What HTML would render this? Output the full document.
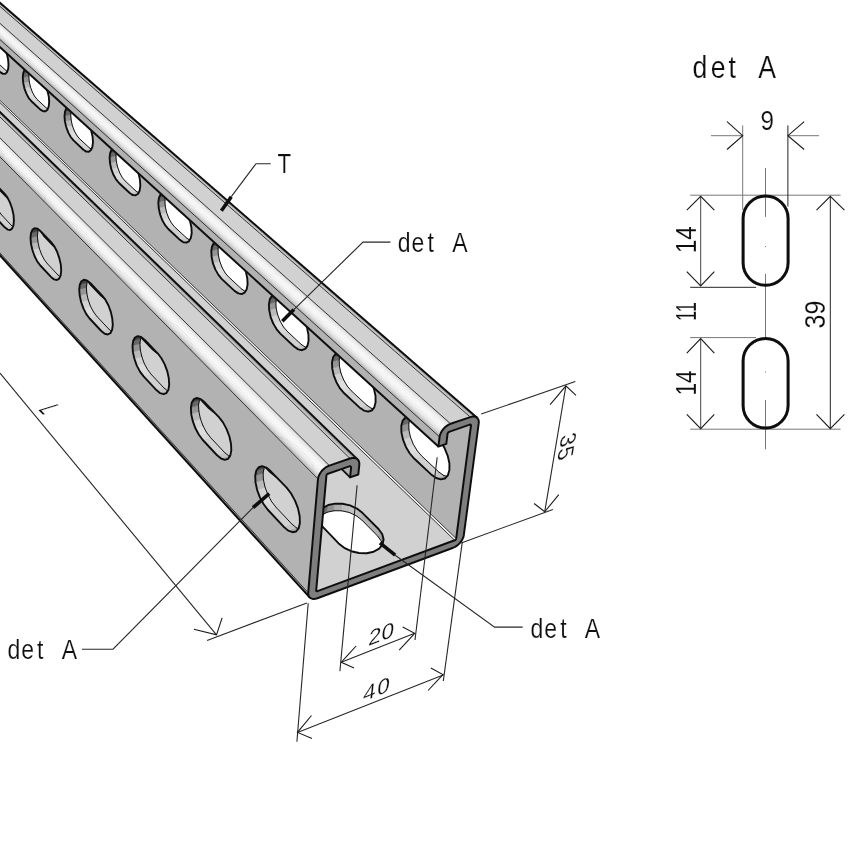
<!DOCTYPE html>
<html><head><meta charset="utf-8"><title>det A</title>
<style>
html,body{margin:0;padding:0;background:#fff;}
body{width:850px;height:850px;overflow:hidden;font-family:"Liberation Sans",sans-serif;}
svg{display:block;}
text{font-family:"Liberation Sans",sans-serif;fill:#111;}
</style></head><body>
<svg width="850" height="850" viewBox="0 0 850 850">
<defs><filter id="soft" x="0" y="0" width="850" height="850" filterUnits="userSpaceOnUse"><feGaussianBlur stdDeviation="0.4"/></filter></defs>
<rect width="850" height="850" fill="#fff"/>
<g id="channel" filter="url(#soft)">
<path d="M-8.0,64.4 L-10.4,61.4 L-4.6,60.0 L-2.1,63.0Z" fill="#d9d9d9" stroke="#d9d9d9" stroke-width="0.5"/>
<path d="M-2.1,63.0 L-4.6,60.0" stroke="#111" stroke-width="1.0" fill="none" stroke-linecap="round"/>
<path d="M-10.4,61.4 L-12.6,57.2 L-6.8,55.8 L-4.6,60.0Z" fill="#dedede" stroke="#dedede" stroke-width="0.5"/>
<path d="M-4.6,60.0 L-6.8,55.8" stroke="#111" stroke-width="1.0" fill="none" stroke-linecap="round"/>
<path d="M-12.6,57.2 L-14.4,52.3 L-8.6,50.9 L-6.8,55.8Z" fill="#d3d3d3" stroke="#d3d3d3" stroke-width="0.5"/>
<path d="M-6.8,55.8 L-8.6,50.9" stroke="#111" stroke-width="1.0" fill="none" stroke-linecap="round"/>
<path d="M-14.4,52.3 L-15.5,47.0 L-9.7,45.7 L-8.6,50.9Z" fill="#bababa" stroke="#bababa" stroke-width="0.5"/>
<path d="M-8.6,50.9 L-9.7,45.7" stroke="#111" stroke-width="1.0" fill="none" stroke-linecap="round"/>
<path d="M-15.5,47.0 L-16.0,42.0 L-10.2,40.6 L-9.7,45.7Z" fill="#959595" stroke="#959595" stroke-width="0.5"/>
<path d="M-9.7,45.7 L-10.2,40.6" stroke="#111" stroke-width="1.0" fill="none" stroke-linecap="round"/>
<path d="M-16.0,42.0 L-15.7,37.7 L-9.8,36.3 L-10.2,40.6Z" fill="#686868" stroke="#686868" stroke-width="0.5"/>
<path d="M-10.2,40.6 L-9.8,36.3" stroke="#111" stroke-width="1.0" fill="none" stroke-linecap="round"/>
<path d="M-15.7,37.7 L-14.6,34.5 L-8.8,33.1 L-9.8,36.3Z" fill="#404040" stroke="#404040" stroke-width="0.5"/>
<path d="M-9.8,36.3 L-8.8,33.1" stroke="#111" stroke-width="1.0" fill="none" stroke-linecap="round"/>
<path d="M-14.6,34.5 L-12.9,32.7 L-7.1,31.3 L-8.8,33.1Z" fill="#404040" stroke="#404040" stroke-width="0.5"/>
<path d="M-8.8,33.1 L-7.1,31.3" stroke="#111" stroke-width="1.0" fill="none" stroke-linecap="round"/>
<path d="M5.3,73.9 L3.0,73.9 L8.9,72.5 L11.2,72.4Z" fill="#a5a5a5" stroke="#a5a5a5" stroke-width="0.5"/>
<path d="M11.2,72.4 L8.9,72.5" stroke="#111" stroke-width="1.0" fill="none" stroke-linecap="round"/>
<path d="M3.0,73.9 L0.6,72.4 L6.4,70.9 L8.9,72.5Z" fill="#c5c5c5" stroke="#c5c5c5" stroke-width="0.5"/>
<path d="M8.9,72.5 L6.4,70.9" stroke="#111" stroke-width="1.0" fill="none" stroke-linecap="round"/>
<path d="M0.6,72.4 L-8.0,64.4 L-2.1,63.0 L6.4,70.9Z" fill="#d1d1d1" stroke="#d1d1d1" stroke-width="0.5"/>
<path d="M6.4,70.9 L-2.1,63.0" stroke="#111" stroke-width="1.0" fill="none" stroke-linecap="round"/>
<path d="M31.2,101.0 L28.6,97.8 L34.6,96.3 L37.2,99.5Z" fill="#d9d9d9" stroke="#d9d9d9" stroke-width="0.5"/>
<path d="M37.2,99.5 L34.6,96.3" stroke="#111" stroke-width="1.0" fill="none" stroke-linecap="round"/>
<path d="M28.6,97.8 L26.3,93.4 L32.3,92.0 L34.6,96.3Z" fill="#dedede" stroke="#dedede" stroke-width="0.5"/>
<path d="M34.6,96.3 L32.3,92.0" stroke="#111" stroke-width="1.0" fill="none" stroke-linecap="round"/>
<path d="M26.3,93.4 L24.4,88.3 L30.4,86.8 L32.3,92.0Z" fill="#d3d3d3" stroke="#d3d3d3" stroke-width="0.5"/>
<path d="M32.3,92.0 L30.4,86.8" stroke="#111" stroke-width="1.0" fill="none" stroke-linecap="round"/>
<path d="M24.4,88.3 L23.2,82.9 L29.2,81.4 L30.4,86.8Z" fill="#bababa" stroke="#bababa" stroke-width="0.5"/>
<path d="M30.4,86.8 L29.2,81.4" stroke="#111" stroke-width="1.0" fill="none" stroke-linecap="round"/>
<path d="M23.2,82.9 L22.8,77.7 L28.8,76.2 L29.2,81.4Z" fill="#959595" stroke="#959595" stroke-width="0.5"/>
<path d="M29.2,81.4 L28.8,76.2" stroke="#111" stroke-width="1.0" fill="none" stroke-linecap="round"/>
<path d="M22.8,77.7 L23.2,73.3 L29.2,71.8 L28.8,76.2Z" fill="#686868" stroke="#686868" stroke-width="0.5"/>
<path d="M28.8,76.2 L29.2,71.8" stroke="#111" stroke-width="1.0" fill="none" stroke-linecap="round"/>
<path d="M23.2,73.3 L24.4,70.0 L30.4,68.5 L29.2,71.8Z" fill="#404040" stroke="#404040" stroke-width="0.5"/>
<path d="M29.2,71.8 L30.4,68.5" stroke="#111" stroke-width="1.0" fill="none" stroke-linecap="round"/>
<path d="M24.4,70.0 L26.2,68.2 L32.3,66.7 L30.4,68.5Z" fill="#404040" stroke="#404040" stroke-width="0.5"/>
<path d="M30.4,68.5 L32.3,66.7" stroke="#111" stroke-width="1.0" fill="none" stroke-linecap="round"/>
<path d="M45.5,111.3 L43.1,111.3 L49.1,109.8 L51.6,109.8Z" fill="#a5a5a5" stroke="#a5a5a5" stroke-width="0.5"/>
<path d="M51.6,109.8 L49.1,109.8" stroke="#111" stroke-width="1.0" fill="none" stroke-linecap="round"/>
<path d="M43.1,111.3 L40.4,109.6 L46.5,108.1 L49.1,109.8Z" fill="#c5c5c5" stroke="#c5c5c5" stroke-width="0.5"/>
<path d="M49.1,109.8 L46.5,108.1" stroke="#111" stroke-width="1.0" fill="none" stroke-linecap="round"/>
<path d="M40.4,109.6 L31.2,101.0 L37.2,99.5 L46.5,108.1Z" fill="#d1d1d1" stroke="#d1d1d1" stroke-width="0.5"/>
<path d="M46.5,108.1 L37.2,99.5" stroke="#111" stroke-width="1.0" fill="none" stroke-linecap="round"/>
<path d="M73.5,140.4 L70.7,137.0 L76.8,135.4 L79.6,138.8Z" fill="#d9d9d9" stroke="#d9d9d9" stroke-width="0.5"/>
<path d="M79.6,138.8 L76.8,135.4" stroke="#111" stroke-width="1.0" fill="none" stroke-linecap="round"/>
<path d="M70.7,137.0 L68.2,132.4 L74.3,130.8 L76.8,135.4Z" fill="#dedede" stroke="#dedede" stroke-width="0.5"/>
<path d="M76.8,135.4 L74.3,130.8" stroke="#111" stroke-width="1.0" fill="none" stroke-linecap="round"/>
<path d="M68.2,132.4 L66.2,127.0 L72.3,125.5 L74.3,130.8Z" fill="#d3d3d3" stroke="#d3d3d3" stroke-width="0.5"/>
<path d="M74.3,130.8 L72.3,125.5" stroke="#111" stroke-width="1.0" fill="none" stroke-linecap="round"/>
<path d="M66.2,127.0 L64.9,121.4 L71.1,119.8 L72.3,125.5Z" fill="#bababa" stroke="#bababa" stroke-width="0.5"/>
<path d="M72.3,125.5 L71.1,119.8" stroke="#111" stroke-width="1.0" fill="none" stroke-linecap="round"/>
<path d="M64.9,121.4 L64.5,116.1 L70.7,114.5 L71.1,119.8Z" fill="#959595" stroke="#959595" stroke-width="0.5"/>
<path d="M71.1,119.8 L70.7,114.5" stroke="#111" stroke-width="1.0" fill="none" stroke-linecap="round"/>
<path d="M64.5,116.1 L65.0,111.5 L71.2,110.0 L70.7,114.5Z" fill="#686868" stroke="#686868" stroke-width="0.5"/>
<path d="M70.7,114.5 L71.2,110.0" stroke="#111" stroke-width="1.0" fill="none" stroke-linecap="round"/>
<path d="M65.0,111.5 L66.4,108.2 L72.5,106.7 L71.2,110.0Z" fill="#404040" stroke="#404040" stroke-width="0.5"/>
<path d="M71.2,110.0 L72.5,106.7" stroke="#111" stroke-width="1.0" fill="none" stroke-linecap="round"/>
<path d="M66.4,108.2 L68.4,106.5 L74.6,104.9 L72.5,106.7Z" fill="#404040" stroke="#404040" stroke-width="0.5"/>
<path d="M72.5,106.7 L74.6,104.9" stroke="#111" stroke-width="1.0" fill="none" stroke-linecap="round"/>
<path d="M88.9,151.7 L86.2,151.6 L92.5,149.9 L95.1,150.1Z" fill="#a5a5a5" stroke="#a5a5a5" stroke-width="0.5"/>
<path d="M95.1,150.1 L92.5,149.9" stroke="#111" stroke-width="1.0" fill="none" stroke-linecap="round"/>
<path d="M86.2,151.6 L83.4,149.7 L89.6,148.0 L92.5,149.9Z" fill="#c5c5c5" stroke="#c5c5c5" stroke-width="0.5"/>
<path d="M92.5,149.9 L89.6,148.0" stroke="#111" stroke-width="1.0" fill="none" stroke-linecap="round"/>
<path d="M83.4,149.7 L73.5,140.4 L79.6,138.8 L89.6,148.0Z" fill="#d1d1d1" stroke="#d1d1d1" stroke-width="0.5"/>
<path d="M89.6,148.0 L79.6,138.8" stroke="#111" stroke-width="1.0" fill="none" stroke-linecap="round"/>
<path d="M119.0,183.0 L116.0,179.3 L122.3,177.6 L125.4,181.2Z" fill="#d9d9d9" stroke="#d9d9d9" stroke-width="0.5"/>
<path d="M125.4,181.2 L122.3,177.6" stroke="#111" stroke-width="1.0" fill="none" stroke-linecap="round"/>
<path d="M116.0,179.3 L113.3,174.5 L119.7,172.8 L122.3,177.6Z" fill="#dedede" stroke="#dedede" stroke-width="0.5"/>
<path d="M122.3,177.6 L119.7,172.8" stroke="#111" stroke-width="1.0" fill="none" stroke-linecap="round"/>
<path d="M113.3,174.5 L111.2,168.9 L117.6,167.1 L119.7,172.8Z" fill="#d3d3d3" stroke="#d3d3d3" stroke-width="0.5"/>
<path d="M119.7,172.8 L117.6,167.1" stroke="#111" stroke-width="1.0" fill="none" stroke-linecap="round"/>
<path d="M111.2,168.9 L110.0,163.0 L116.3,161.3 L117.6,167.1Z" fill="#bababa" stroke="#bababa" stroke-width="0.5"/>
<path d="M117.6,167.1 L116.3,161.3" stroke="#111" stroke-width="1.0" fill="none" stroke-linecap="round"/>
<path d="M110.0,163.0 L109.6,157.5 L115.9,155.8 L116.3,161.3Z" fill="#959595" stroke="#959595" stroke-width="0.5"/>
<path d="M116.3,161.3 L115.9,155.8" stroke="#111" stroke-width="1.0" fill="none" stroke-linecap="round"/>
<path d="M109.6,157.5 L110.2,152.9 L116.5,151.2 L115.9,155.8Z" fill="#686868" stroke="#686868" stroke-width="0.5"/>
<path d="M115.9,155.8 L116.5,151.2" stroke="#111" stroke-width="1.0" fill="none" stroke-linecap="round"/>
<path d="M110.2,152.9 L111.7,149.5 L118.0,147.8 L116.5,151.2Z" fill="#404040" stroke="#404040" stroke-width="0.5"/>
<path d="M116.5,151.2 L118.0,147.8" stroke="#111" stroke-width="1.0" fill="none" stroke-linecap="round"/>
<path d="M111.7,149.5 L113.9,147.8 L120.3,146.2 L118.0,147.8Z" fill="#404040" stroke="#404040" stroke-width="0.5"/>
<path d="M118.0,147.8 L120.3,146.2" stroke="#111" stroke-width="1.0" fill="none" stroke-linecap="round"/>
<path d="M135.7,195.3 L132.8,195.1 L139.3,193.3 L142.2,193.6Z" fill="#a5a5a5" stroke="#a5a5a5" stroke-width="0.5"/>
<path d="M142.2,193.6 L139.3,193.3" stroke="#111" stroke-width="1.0" fill="none" stroke-linecap="round"/>
<path d="M132.8,195.1 L129.7,193.0 L136.1,191.2 L139.3,193.3Z" fill="#c5c5c5" stroke="#c5c5c5" stroke-width="0.5"/>
<path d="M139.3,193.3 L136.1,191.2" stroke="#111" stroke-width="1.0" fill="none" stroke-linecap="round"/>
<path d="M129.7,193.0 L119.0,183.0 L125.4,181.2 L136.1,191.2Z" fill="#d1d1d1" stroke="#d1d1d1" stroke-width="0.5"/>
<path d="M136.1,191.2 L125.4,181.2" stroke="#111" stroke-width="1.0" fill="none" stroke-linecap="round"/>
<path d="M168.3,229.0 L165.1,225.1 L171.6,223.3 L174.9,227.2Z" fill="#d9d9d9" stroke="#d9d9d9" stroke-width="0.5"/>
<path d="M174.9,227.2 L171.6,223.3" stroke="#111" stroke-width="1.0" fill="none" stroke-linecap="round"/>
<path d="M165.1,225.1 L162.2,220.0 L168.7,218.1 L171.6,223.3Z" fill="#dedede" stroke="#dedede" stroke-width="0.5"/>
<path d="M171.6,223.3 L168.7,218.1" stroke="#111" stroke-width="1.0" fill="none" stroke-linecap="round"/>
<path d="M162.2,220.0 L160.0,214.1 L166.5,212.3 L168.7,218.1Z" fill="#d3d3d3" stroke="#d3d3d3" stroke-width="0.5"/>
<path d="M168.7,218.1 L166.5,212.3" stroke="#111" stroke-width="1.0" fill="none" stroke-linecap="round"/>
<path d="M160.0,214.1 L158.7,208.0 L165.2,206.2 L166.5,212.3Z" fill="#bababa" stroke="#bababa" stroke-width="0.5"/>
<path d="M166.5,212.3 L165.2,206.2" stroke="#111" stroke-width="1.0" fill="none" stroke-linecap="round"/>
<path d="M158.7,208.0 L158.3,202.3 L164.9,200.5 L165.2,206.2Z" fill="#959595" stroke="#959595" stroke-width="0.5"/>
<path d="M165.2,206.2 L164.9,200.5" stroke="#111" stroke-width="1.0" fill="none" stroke-linecap="round"/>
<path d="M158.3,202.3 L159.0,197.6 L165.6,195.8 L164.9,200.5Z" fill="#686868" stroke="#686868" stroke-width="0.5"/>
<path d="M164.9,200.5 L165.6,195.8" stroke="#111" stroke-width="1.0" fill="none" stroke-linecap="round"/>
<path d="M159.0,197.6 L160.7,194.2 L167.3,192.4 L165.6,195.8Z" fill="#404040" stroke="#404040" stroke-width="0.5"/>
<path d="M165.6,195.8 L167.3,192.4" stroke="#111" stroke-width="1.0" fill="none" stroke-linecap="round"/>
<path d="M160.7,194.2 L163.2,192.6 L169.8,190.8 L167.3,192.4Z" fill="#404040" stroke="#404040" stroke-width="0.5"/>
<path d="M167.3,192.4 L169.8,190.8" stroke="#111" stroke-width="1.0" fill="none" stroke-linecap="round"/>
<path d="M186.5,242.6 L183.4,242.2 L190.0,240.3 L193.2,240.7Z" fill="#a5a5a5" stroke="#a5a5a5" stroke-width="0.5"/>
<path d="M193.2,240.7 L190.0,240.3" stroke="#111" stroke-width="1.0" fill="none" stroke-linecap="round"/>
<path d="M183.4,242.2 L179.9,239.9 L186.6,238.0 L190.0,240.3Z" fill="#c5c5c5" stroke="#c5c5c5" stroke-width="0.5"/>
<path d="M190.0,240.3 L186.6,238.0" stroke="#111" stroke-width="1.0" fill="none" stroke-linecap="round"/>
<path d="M179.9,239.9 L168.3,229.0 L174.9,227.2 L186.6,238.0Z" fill="#d1d1d1" stroke="#d1d1d1" stroke-width="0.5"/>
<path d="M186.6,238.0 L174.9,227.2" stroke="#111" stroke-width="1.0" fill="none" stroke-linecap="round"/>
<path d="M221.9,279.1 L218.4,274.9 L225.1,272.9 L228.7,277.0Z" fill="#d9d9d9" stroke="#d9d9d9" stroke-width="0.5"/>
<path d="M228.7,277.0 L225.1,272.9" stroke="#111" stroke-width="1.0" fill="none" stroke-linecap="round"/>
<path d="M218.4,274.9 L215.3,269.4 L222.0,267.4 L225.1,272.9Z" fill="#dedede" stroke="#dedede" stroke-width="0.5"/>
<path d="M225.1,272.9 L222.0,267.4" stroke="#111" stroke-width="1.0" fill="none" stroke-linecap="round"/>
<path d="M215.3,269.4 L212.9,263.2 L219.7,261.2 L222.0,267.4Z" fill="#d3d3d3" stroke="#d3d3d3" stroke-width="0.5"/>
<path d="M222.0,267.4 L219.7,261.2" stroke="#111" stroke-width="1.0" fill="none" stroke-linecap="round"/>
<path d="M212.9,263.2 L211.6,256.9 L218.3,254.9 L219.7,261.2Z" fill="#bababa" stroke="#bababa" stroke-width="0.5"/>
<path d="M219.7,261.2 L218.3,254.9" stroke="#111" stroke-width="1.0" fill="none" stroke-linecap="round"/>
<path d="M211.6,256.9 L211.3,251.0 L218.0,249.1 L218.3,254.9Z" fill="#959595" stroke="#959595" stroke-width="0.5"/>
<path d="M218.3,254.9 L218.0,249.1" stroke="#111" stroke-width="1.0" fill="none" stroke-linecap="round"/>
<path d="M211.3,251.0 L212.1,246.2 L218.9,244.2 L218.0,249.1Z" fill="#686868" stroke="#686868" stroke-width="0.5"/>
<path d="M218.0,249.1 L218.9,244.2" stroke="#111" stroke-width="1.0" fill="none" stroke-linecap="round"/>
<path d="M212.1,246.2 L214.0,242.8 L220.8,240.8 L218.9,244.2Z" fill="#404040" stroke="#404040" stroke-width="0.5"/>
<path d="M218.9,244.2 L220.8,240.8" stroke="#111" stroke-width="1.0" fill="none" stroke-linecap="round"/>
<path d="M214.0,242.8 L216.7,241.3 L223.5,239.3 L220.8,240.8Z" fill="#404040" stroke="#404040" stroke-width="0.5"/>
<path d="M220.8,240.8 L223.5,239.3" stroke="#111" stroke-width="1.0" fill="none" stroke-linecap="round"/>
<path d="M241.7,294.1 L238.3,293.4 L245.1,291.4 L248.6,292.0Z" fill="#a5a5a5" stroke="#a5a5a5" stroke-width="0.5"/>
<path d="M248.6,292.0 L245.1,291.4" stroke="#111" stroke-width="1.0" fill="none" stroke-linecap="round"/>
<path d="M238.3,293.4 L234.5,290.9 L241.4,288.8 L245.1,291.4Z" fill="#c5c5c5" stroke="#c5c5c5" stroke-width="0.5"/>
<path d="M245.1,291.4 L241.4,288.8" stroke="#111" stroke-width="1.0" fill="none" stroke-linecap="round"/>
<path d="M234.5,290.9 L221.9,279.1 L228.7,277.0 L241.4,288.8Z" fill="#d1d1d1" stroke="#d1d1d1" stroke-width="0.5"/>
<path d="M241.4,288.8 L228.7,277.0" stroke="#111" stroke-width="1.0" fill="none" stroke-linecap="round"/>
<path d="M280.3,333.6 L276.5,329.1 L283.4,326.9 L287.3,331.4Z" fill="#d9d9d9" stroke="#d9d9d9" stroke-width="0.5"/>
<path d="M287.3,331.4 L283.4,326.9" stroke="#111" stroke-width="1.0" fill="none" stroke-linecap="round"/>
<path d="M276.5,329.1 L273.1,323.3 L280.1,321.1 L283.4,326.9Z" fill="#dedede" stroke="#dedede" stroke-width="0.5"/>
<path d="M283.4,326.9 L280.1,321.1" stroke="#111" stroke-width="1.0" fill="none" stroke-linecap="round"/>
<path d="M273.1,323.3 L270.6,316.8 L277.6,314.6 L280.1,321.1Z" fill="#d3d3d3" stroke="#d3d3d3" stroke-width="0.5"/>
<path d="M280.1,321.1 L277.6,314.6" stroke="#111" stroke-width="1.0" fill="none" stroke-linecap="round"/>
<path d="M270.6,316.8 L269.2,310.1 L276.1,308.0 L277.6,314.6Z" fill="#bababa" stroke="#bababa" stroke-width="0.5"/>
<path d="M277.6,314.6 L276.1,308.0" stroke="#111" stroke-width="1.0" fill="none" stroke-linecap="round"/>
<path d="M269.2,310.1 L268.9,304.1 L275.9,301.9 L276.1,308.0Z" fill="#959595" stroke="#959595" stroke-width="0.5"/>
<path d="M276.1,308.0 L275.9,301.9" stroke="#111" stroke-width="1.0" fill="none" stroke-linecap="round"/>
<path d="M268.9,304.1 L269.9,299.1 L276.9,297.0 L275.9,301.9Z" fill="#686868" stroke="#686868" stroke-width="0.5"/>
<path d="M275.9,301.9 L276.9,297.0" stroke="#111" stroke-width="1.0" fill="none" stroke-linecap="round"/>
<path d="M269.9,299.1 L272.1,295.7 L279.1,293.6 L276.9,297.0Z" fill="#404040" stroke="#404040" stroke-width="0.5"/>
<path d="M276.9,297.0 L279.1,293.6" stroke="#111" stroke-width="1.0" fill="none" stroke-linecap="round"/>
<path d="M272.1,295.7 L275.1,294.3 L282.2,292.1 L279.1,293.6Z" fill="#404040" stroke="#404040" stroke-width="0.5"/>
<path d="M279.1,293.6 L282.2,292.1" stroke="#111" stroke-width="1.0" fill="none" stroke-linecap="round"/>
<path d="M302.0,350.2 L298.2,349.4 L305.2,347.1 L309.1,347.9Z" fill="#a5a5a5" stroke="#a5a5a5" stroke-width="0.5"/>
<path d="M309.1,347.9 L305.2,347.1" stroke="#111" stroke-width="1.0" fill="none" stroke-linecap="round"/>
<path d="M298.2,349.4 L294.1,346.5 L301.1,344.3 L305.2,347.1Z" fill="#c5c5c5" stroke="#c5c5c5" stroke-width="0.5"/>
<path d="M305.2,347.1 L301.1,344.3" stroke="#111" stroke-width="1.0" fill="none" stroke-linecap="round"/>
<path d="M294.1,346.5 L280.3,333.6 L287.3,331.4 L301.1,344.3Z" fill="#d1d1d1" stroke="#d1d1d1" stroke-width="0.5"/>
<path d="M301.1,344.3 L287.3,331.4" stroke="#111" stroke-width="1.0" fill="none" stroke-linecap="round"/>
<path d="M344.2,393.3 L340.0,388.4 L347.2,386.0 L351.4,390.9Z" fill="#d9d9d9" stroke="#d9d9d9" stroke-width="0.5"/>
<path d="M351.4,390.9 L347.2,386.0" stroke="#111" stroke-width="1.0" fill="none" stroke-linecap="round"/>
<path d="M340.0,388.4 L336.4,382.2 L343.6,379.8 L347.2,386.0Z" fill="#dedede" stroke="#dedede" stroke-width="0.5"/>
<path d="M347.2,386.0 L343.6,379.8" stroke="#111" stroke-width="1.0" fill="none" stroke-linecap="round"/>
<path d="M336.4,382.2 L333.7,375.3 L340.9,373.0 L343.6,379.8Z" fill="#d3d3d3" stroke="#d3d3d3" stroke-width="0.5"/>
<path d="M343.6,379.8 L340.9,373.0" stroke="#111" stroke-width="1.0" fill="none" stroke-linecap="round"/>
<path d="M333.7,375.3 L332.2,368.4 L339.4,366.1 L340.9,373.0Z" fill="#bababa" stroke="#bababa" stroke-width="0.5"/>
<path d="M340.9,373.0 L339.4,366.1" stroke="#111" stroke-width="1.0" fill="none" stroke-linecap="round"/>
<path d="M332.2,368.4 L332.0,362.1 L339.2,359.8 L339.4,366.1Z" fill="#959595" stroke="#959595" stroke-width="0.5"/>
<path d="M339.4,366.1 L339.2,359.8" stroke="#111" stroke-width="1.0" fill="none" stroke-linecap="round"/>
<path d="M332.0,362.1 L333.2,357.0 L340.4,354.7 L339.2,359.8Z" fill="#686868" stroke="#686868" stroke-width="0.5"/>
<path d="M339.2,359.8 L340.4,354.7" stroke="#111" stroke-width="1.0" fill="none" stroke-linecap="round"/>
<path d="M333.2,357.0 L335.6,353.7 L342.9,351.3 L340.4,354.7Z" fill="#404040" stroke="#404040" stroke-width="0.5"/>
<path d="M340.4,354.7 L342.9,351.3" stroke="#111" stroke-width="1.0" fill="none" stroke-linecap="round"/>
<path d="M335.6,353.7 L339.1,352.3 L346.3,350.0 L342.9,351.3Z" fill="#404040" stroke="#404040" stroke-width="0.5"/>
<path d="M342.9,351.3 L346.3,350.0" stroke="#111" stroke-width="1.0" fill="none" stroke-linecap="round"/>
<path d="M371.7,410.6 L368.1,411.7 L375.4,409.3 L379.0,408.1Z" fill="#7a7a7a" stroke="#7a7a7a" stroke-width="0.5"/>
<path d="M379.0,408.1 L375.4,409.3" stroke="#111" stroke-width="1.0" fill="none" stroke-linecap="round"/>
<path d="M368.1,411.7 L363.9,410.6 L371.1,408.2 L375.4,409.3Z" fill="#a5a5a5" stroke="#a5a5a5" stroke-width="0.5"/>
<path d="M375.4,409.3 L371.1,408.2" stroke="#111" stroke-width="1.0" fill="none" stroke-linecap="round"/>
<path d="M363.9,410.6 L359.4,407.4 L366.6,405.0 L371.1,408.2Z" fill="#c5c5c5" stroke="#c5c5c5" stroke-width="0.5"/>
<path d="M371.1,408.2 L366.6,405.0" stroke="#111" stroke-width="1.0" fill="none" stroke-linecap="round"/>
<path d="M359.4,407.4 L344.2,393.3 L351.4,390.9 L366.6,405.0Z" fill="#d1d1d1" stroke="#d1d1d1" stroke-width="0.5"/>
<path d="M366.6,405.0 L351.4,390.9" stroke="#111" stroke-width="1.0" fill="none" stroke-linecap="round"/>
<path d="M414.4,458.8 L409.8,453.5 L417.3,450.9 L421.9,456.2Z" fill="#d9d9d9" stroke="#d9d9d9" stroke-width="0.5"/>
<path d="M421.9,456.2 L417.3,450.9" stroke="#111" stroke-width="1.0" fill="none" stroke-linecap="round"/>
<path d="M409.8,453.5 L405.9,446.9 L413.3,444.3 L417.3,450.9Z" fill="#dedede" stroke="#dedede" stroke-width="0.5"/>
<path d="M417.3,450.9 L413.3,444.3" stroke="#111" stroke-width="1.0" fill="none" stroke-linecap="round"/>
<path d="M405.9,446.9 L403.0,439.6 L410.4,437.0 L413.3,444.3Z" fill="#d3d3d3" stroke="#d3d3d3" stroke-width="0.5"/>
<path d="M413.3,444.3 L410.4,437.0" stroke="#111" stroke-width="1.0" fill="none" stroke-linecap="round"/>
<path d="M403.0,439.6 L401.4,432.4 L408.9,429.8 L410.4,437.0Z" fill="#bababa" stroke="#bababa" stroke-width="0.5"/>
<path d="M410.4,437.0 L408.9,429.8" stroke="#111" stroke-width="1.0" fill="none" stroke-linecap="round"/>
<path d="M401.4,432.4 L401.3,425.8 L408.8,423.3 L408.9,429.8Z" fill="#959595" stroke="#959595" stroke-width="0.5"/>
<path d="M408.9,429.8 L408.8,423.3" stroke="#111" stroke-width="1.0" fill="none" stroke-linecap="round"/>
<path d="M401.3,425.8 L402.7,420.7 L410.2,418.1 L408.8,423.3Z" fill="#686868" stroke="#686868" stroke-width="0.5"/>
<path d="M408.8,423.3 L410.2,418.1" stroke="#111" stroke-width="1.0" fill="none" stroke-linecap="round"/>
<path d="M402.7,420.7 L405.5,417.3 L412.9,414.8 L410.2,418.1Z" fill="#404040" stroke="#404040" stroke-width="0.5"/>
<path d="M410.2,418.1 L412.9,414.8" stroke="#111" stroke-width="1.0" fill="none" stroke-linecap="round"/>
<path d="M444.9,478.5 L440.8,479.4 L448.4,476.8 L452.5,475.8Z" fill="#7a7a7a" stroke="#7a7a7a" stroke-width="0.5"/>
<path d="M452.5,475.8 L448.4,476.8" stroke="#111" stroke-width="1.0" fill="none" stroke-linecap="round"/>
<path d="M440.8,479.4 L436.1,478.0 L443.6,475.4 L448.4,476.8Z" fill="#a5a5a5" stroke="#a5a5a5" stroke-width="0.5"/>
<path d="M448.4,476.8 L443.6,475.4" stroke="#111" stroke-width="1.0" fill="none" stroke-linecap="round"/>
<path d="M436.1,478.0 L431.1,474.4 L438.6,471.8 L443.6,475.4Z" fill="#c5c5c5" stroke="#c5c5c5" stroke-width="0.5"/>
<path d="M443.6,475.4 L438.6,471.8" stroke="#111" stroke-width="1.0" fill="none" stroke-linecap="round"/>
<path d="M431.1,474.4 L414.4,458.8 L421.9,456.2 L438.6,471.8Z" fill="#d1d1d1" stroke="#d1d1d1" stroke-width="0.5"/>
<path d="M438.6,471.8 L421.9,456.2" stroke="#111" stroke-width="1.0" fill="none" stroke-linecap="round"/>
<path d="M456.2,538.5 L471.0,425.5 L-447.2,-380.7 L-440.4,-322.5Z M414.4,458.8 L409.8,453.5 L405.9,446.9 L403.0,439.6 L401.4,432.4 L401.3,425.8 L402.7,420.7 L405.5,417.3 L409.3,416.2 L413.9,417.3 L418.8,420.7 L435.8,436.1 L440.6,441.5 L444.7,448.3 L447.7,455.8 L449.4,463.3 L449.4,470.0 L447.9,475.3 L444.9,478.5 L440.8,479.4 L436.1,478.0 L431.1,474.4Z M344.2,393.3 L340.0,388.4 L336.4,382.2 L333.7,375.3 L332.2,368.4 L332.0,362.1 L333.2,357.0 L335.6,353.7 L339.1,352.3 L343.2,353.2 L347.6,356.2 L363.0,370.2 L367.3,375.1 L371.1,381.5 L373.9,388.6 L375.5,395.7 L375.6,402.2 L374.3,407.3 L371.7,410.6 L368.1,411.7 L363.9,410.6 L359.4,407.4Z M280.3,333.6 L276.5,329.1 L273.1,323.3 L270.6,316.8 L269.2,310.1 L268.9,304.1 L269.9,299.1 L272.1,295.7 L275.1,294.3 L278.9,294.9 L282.9,297.6 L296.9,310.3 L300.9,314.9 L304.4,320.8 L307.0,327.5 L308.4,334.4 L308.6,340.6 L307.5,345.6 L305.3,348.9 L302.0,350.2 L298.2,349.4 L294.1,346.5Z M221.9,279.1 L218.4,274.9 L215.3,269.4 L212.9,263.2 L211.6,256.9 L211.3,251.0 L212.1,246.2 L214.0,242.8 L216.7,241.3 L220.1,241.7 L223.8,244.1 L236.6,255.7 L240.2,259.9 L243.5,265.5 L245.9,271.9 L247.3,278.4 L247.6,284.4 L246.7,289.3 L244.6,292.7 L241.7,294.1 L238.3,293.4 L234.5,290.9Z M168.3,229.0 L165.1,225.1 L162.2,220.0 L160.0,214.1 L158.7,208.0 L158.3,202.3 L159.0,197.6 L160.7,194.2 L163.2,192.6 L166.3,192.9 L169.6,195.1 L181.4,205.7 L184.7,209.6 L187.7,214.9 L190.0,220.9 L191.4,227.2 L191.7,233.0 L190.9,237.8 L189.1,241.1 L186.5,242.6 L183.4,242.2 L179.9,239.9Z M119.0,183.0 L116.0,179.3 L113.3,174.5 L111.2,168.9 L110.0,163.0 L109.6,157.5 L110.2,152.9 L111.7,149.5 L113.9,147.8 L116.7,148.0 L119.8,149.9 L130.6,159.7 L133.7,163.4 L136.5,168.4 L138.7,174.1 L140.0,180.1 L140.3,185.8 L139.7,190.5 L138.1,193.8 L135.7,195.3 L132.8,195.1 L129.7,193.0Z M73.5,140.4 L70.7,137.0 L68.2,132.4 L66.2,127.0 L64.9,121.4 L64.5,116.1 L65.0,111.5 L66.4,108.2 L68.4,106.5 L71.0,106.5 L73.8,108.3 L83.8,117.3 L86.7,120.8 L89.3,125.5 L91.3,131.0 L92.6,136.8 L93.0,142.2 L92.4,146.8 L91.0,150.1 L88.9,151.7 L86.2,151.6 L83.4,149.7Z M31.2,101.0 L28.6,97.8 L26.3,93.4 L24.4,88.3 L23.2,82.9 L22.8,77.7 L23.2,73.3 L24.4,70.0 L26.2,68.2 L28.6,68.1 L31.2,69.7 L40.5,78.1 L43.2,81.3 L45.6,85.8 L47.5,91.1 L48.8,96.6 L49.2,101.9 L48.7,106.4 L47.5,109.7 L45.5,111.3 L43.1,111.3 L40.4,109.6Z M-8.0,64.4 L-10.4,61.4 L-12.6,57.2 L-14.4,52.3 L-15.5,47.0 L-16.0,42.0 L-15.7,37.7 L-14.6,34.5 L-12.9,32.7 L-10.7,32.5 L-8.3,33.9 L0.3,41.7 L2.8,44.7 L5.1,49.0 L6.9,54.1 L8.1,59.4 L8.5,64.6 L8.2,68.9 L7.0,72.1 L5.3,73.9 L3.0,73.9 L0.6,72.4Z" fill="#b2b2b2" fill-rule="evenodd" stroke="none"/>
<path d="M414.4,458.8 L409.8,453.5 L405.9,446.9 L403.0,439.6 L401.4,432.4 L401.3,425.8 L402.7,420.7 L405.5,417.3 L409.3,416.2 L413.9,417.3 L418.8,420.7 L435.8,436.1 L440.6,441.5 L444.7,448.3 L447.7,455.8 L449.4,463.3 L449.4,470.0 L447.9,475.3 L444.9,478.5 L440.8,479.4 L436.1,478.0 L431.1,474.4Z M344.2,393.3 L340.0,388.4 L336.4,382.2 L333.7,375.3 L332.2,368.4 L332.0,362.1 L333.2,357.0 L335.6,353.7 L339.1,352.3 L343.2,353.2 L347.6,356.2 L363.0,370.2 L367.3,375.1 L371.1,381.5 L373.9,388.6 L375.5,395.7 L375.6,402.2 L374.3,407.3 L371.7,410.6 L368.1,411.7 L363.9,410.6 L359.4,407.4Z M280.3,333.6 L276.5,329.1 L273.1,323.3 L270.6,316.8 L269.2,310.1 L268.9,304.1 L269.9,299.1 L272.1,295.7 L275.1,294.3 L278.9,294.9 L282.9,297.6 L296.9,310.3 L300.9,314.9 L304.4,320.8 L307.0,327.5 L308.4,334.4 L308.6,340.6 L307.5,345.6 L305.3,348.9 L302.0,350.2 L298.2,349.4 L294.1,346.5Z M221.9,279.1 L218.4,274.9 L215.3,269.4 L212.9,263.2 L211.6,256.9 L211.3,251.0 L212.1,246.2 L214.0,242.8 L216.7,241.3 L220.1,241.7 L223.8,244.1 L236.6,255.7 L240.2,259.9 L243.5,265.5 L245.9,271.9 L247.3,278.4 L247.6,284.4 L246.7,289.3 L244.6,292.7 L241.7,294.1 L238.3,293.4 L234.5,290.9Z M168.3,229.0 L165.1,225.1 L162.2,220.0 L160.0,214.1 L158.7,208.0 L158.3,202.3 L159.0,197.6 L160.7,194.2 L163.2,192.6 L166.3,192.9 L169.6,195.1 L181.4,205.7 L184.7,209.6 L187.7,214.9 L190.0,220.9 L191.4,227.2 L191.7,233.0 L190.9,237.8 L189.1,241.1 L186.5,242.6 L183.4,242.2 L179.9,239.9Z M119.0,183.0 L116.0,179.3 L113.3,174.5 L111.2,168.9 L110.0,163.0 L109.6,157.5 L110.2,152.9 L111.7,149.5 L113.9,147.8 L116.7,148.0 L119.8,149.9 L130.6,159.7 L133.7,163.4 L136.5,168.4 L138.7,174.1 L140.0,180.1 L140.3,185.8 L139.7,190.5 L138.1,193.8 L135.7,195.3 L132.8,195.1 L129.7,193.0Z M73.5,140.4 L70.7,137.0 L68.2,132.4 L66.2,127.0 L64.9,121.4 L64.5,116.1 L65.0,111.5 L66.4,108.2 L68.4,106.5 L71.0,106.5 L73.8,108.3 L83.8,117.3 L86.7,120.8 L89.3,125.5 L91.3,131.0 L92.6,136.8 L93.0,142.2 L92.4,146.8 L91.0,150.1 L88.9,151.7 L86.2,151.6 L83.4,149.7Z M31.2,101.0 L28.6,97.8 L26.3,93.4 L24.4,88.3 L23.2,82.9 L22.8,77.7 L23.2,73.3 L24.4,70.0 L26.2,68.2 L28.6,68.1 L31.2,69.7 L40.5,78.1 L43.2,81.3 L45.6,85.8 L47.5,91.1 L48.8,96.6 L49.2,101.9 L48.7,106.4 L47.5,109.7 L45.5,111.3 L43.1,111.3 L40.4,109.6Z M-8.0,64.4 L-10.4,61.4 L-12.6,57.2 L-14.4,52.3 L-15.5,47.0 L-16.0,42.0 L-15.7,37.7 L-14.6,34.5 L-12.9,32.7 L-10.7,32.5 L-8.3,33.9 L0.3,41.7 L2.8,44.7 L5.1,49.0 L6.9,54.1 L8.1,59.4 L8.5,64.6 L8.2,68.9 L7.0,72.1 L5.3,73.9 L3.0,73.9 L0.6,72.4Z" fill="none" stroke="#111" stroke-width="1.90" stroke-linejoin="round"/>
<path d="M-40.5,146.7 L-40.4,143.9 L-40.3,149.7 L-40.4,152.6Z" fill="#404040" stroke="#404040" stroke-width="0.5"/>
<path d="M-40.4,152.6 L-40.3,149.7" stroke="#111" stroke-width="1.0" fill="none" stroke-linecap="round"/>
<path d="M-40.4,143.9 L-38.7,141.1 L-38.6,147.0 L-40.3,149.7Z" fill="#404040" stroke="#404040" stroke-width="0.5"/>
<path d="M-40.3,149.7 L-38.6,147.0" stroke="#111" stroke-width="1.0" fill="none" stroke-linecap="round"/>
<path d="M-38.7,141.1 L-35.4,138.9 L-35.3,144.7 L-38.6,147.0Z" fill="#454545" stroke="#454545" stroke-width="0.5"/>
<path d="M-38.6,147.0 L-35.3,144.7" stroke="#111" stroke-width="1.0" fill="none" stroke-linecap="round"/>
<path d="M-35.4,138.9 L-30.9,137.2 L-30.8,143.1 L-35.3,144.7Z" fill="#6d6d6d" stroke="#6d6d6d" stroke-width="0.5"/>
<path d="M-35.3,144.7 L-30.8,143.1" stroke="#111" stroke-width="1.0" fill="none" stroke-linecap="round"/>
<path d="M-30.9,137.2 L-25.7,136.4 L-25.6,142.2 L-30.8,143.1Z" fill="#919191" stroke="#919191" stroke-width="0.5"/>
<path d="M-30.8,143.1 L-25.6,142.2" stroke="#111" stroke-width="1.0" fill="none" stroke-linecap="round"/>
<path d="M-25.7,136.4 L-20.2,136.4 L-20.1,142.3 L-25.6,142.2Z" fill="#acacac" stroke="#acacac" stroke-width="0.5"/>
<path d="M-25.6,142.2 L-20.1,142.3" stroke="#111" stroke-width="1.0" fill="none" stroke-linecap="round"/>
<path d="M-20.2,136.4 L-14.9,137.3 L-14.9,143.2 L-20.1,142.3Z" fill="#bebebe" stroke="#bebebe" stroke-width="0.5"/>
<path d="M-20.1,142.3 L-14.9,143.2" stroke="#111" stroke-width="1.0" fill="none" stroke-linecap="round"/>
<path d="M-14.9,137.3 L-10.4,139.0 L-10.4,144.9 L-14.9,143.2Z" fill="#c3c3c3" stroke="#c3c3c3" stroke-width="0.5"/>
<path d="M-14.9,143.2 L-10.4,144.9" stroke="#111" stroke-width="1.0" fill="none" stroke-linecap="round"/>
<path d="M-10.4,139.0 L-7.2,141.4 L-7.1,147.2 L-10.4,144.9Z" fill="#bbbbbb" stroke="#bbbbbb" stroke-width="0.5"/>
<path d="M-10.4,144.9 L-7.1,147.2" stroke="#111" stroke-width="1.0" fill="none" stroke-linecap="round"/>
<path d="M-7.2,141.4 L1.7,150.3 L1.8,156.2 L-7.1,147.2Z" fill="#b2b2b2" stroke="#b2b2b2" stroke-width="0.5"/>
<path d="M-7.1,147.2 L1.8,156.2" stroke="#111" stroke-width="1.0" fill="none" stroke-linecap="round"/>
<path d="M1.7,150.3 L3.5,153.0 L3.5,159.0 L1.8,156.2Z" fill="#a7a7a7" stroke="#a7a7a7" stroke-width="0.5"/>
<path d="M1.8,156.2 L3.5,159.0" stroke="#111" stroke-width="1.0" fill="none" stroke-linecap="round"/>
<path d="M3.5,153.0 L3.6,156.0 L3.6,161.9 L3.5,159.0Z" fill="#898989" stroke="#898989" stroke-width="0.5"/>
<path d="M3.5,159.0 L3.6,161.9" stroke="#111" stroke-width="1.0" fill="none" stroke-linecap="round"/>
<path d="M-1.0,184.9 L0.8,182.0 L0.8,188.0 L-0.9,191.0Z" fill="#404040" stroke="#404040" stroke-width="0.5"/>
<path d="M-0.9,191.0 L0.8,188.0" stroke="#111" stroke-width="1.0" fill="none" stroke-linecap="round"/>
<path d="M0.8,182.0 L4.1,179.6 L4.1,185.6 L0.8,188.0Z" fill="#454545" stroke="#454545" stroke-width="0.5"/>
<path d="M0.8,188.0 L4.1,185.6" stroke="#111" stroke-width="1.0" fill="none" stroke-linecap="round"/>
<path d="M4.1,179.6 L8.7,177.8 L8.7,183.8 L4.1,185.6Z" fill="#6d6d6d" stroke="#6d6d6d" stroke-width="0.5"/>
<path d="M4.1,185.6 L8.7,183.8" stroke="#111" stroke-width="1.0" fill="none" stroke-linecap="round"/>
<path d="M8.7,177.8 L14.1,176.9 L14.1,182.9 L8.7,183.8Z" fill="#919191" stroke="#919191" stroke-width="0.5"/>
<path d="M8.7,183.8 L14.1,182.9" stroke="#111" stroke-width="1.0" fill="none" stroke-linecap="round"/>
<path d="M14.1,176.9 L19.8,176.9 L19.9,183.0 L14.1,182.9Z" fill="#acacac" stroke="#acacac" stroke-width="0.5"/>
<path d="M14.1,182.9 L19.9,183.0" stroke="#111" stroke-width="1.0" fill="none" stroke-linecap="round"/>
<path d="M19.8,176.9 L25.3,177.9 L25.3,184.0 L19.9,183.0Z" fill="#bebebe" stroke="#bebebe" stroke-width="0.5"/>
<path d="M19.9,183.0 L25.3,184.0" stroke="#111" stroke-width="1.0" fill="none" stroke-linecap="round"/>
<path d="M25.3,177.9 L30.1,179.8 L30.1,185.8 L25.3,184.0Z" fill="#c3c3c3" stroke="#c3c3c3" stroke-width="0.5"/>
<path d="M25.3,184.0 L30.1,185.8" stroke="#111" stroke-width="1.0" fill="none" stroke-linecap="round"/>
<path d="M30.1,179.8 L33.6,182.3 L33.6,188.3 L30.1,185.8Z" fill="#bbbbbb" stroke="#bbbbbb" stroke-width="0.5"/>
<path d="M30.1,185.8 L33.6,188.3" stroke="#111" stroke-width="1.0" fill="none" stroke-linecap="round"/>
<path d="M33.6,182.3 L43.1,191.9 L43.1,198.0 L33.6,188.3Z" fill="#b2b2b2" stroke="#b2b2b2" stroke-width="0.5"/>
<path d="M33.6,188.3 L43.1,198.0" stroke="#111" stroke-width="1.0" fill="none" stroke-linecap="round"/>
<path d="M43.1,191.9 L45.1,194.9 L45.1,201.0 L43.1,198.0Z" fill="#a7a7a7" stroke="#a7a7a7" stroke-width="0.5"/>
<path d="M43.1,198.0 L45.1,201.0" stroke="#111" stroke-width="1.0" fill="none" stroke-linecap="round"/>
<path d="M45.1,194.9 L45.3,198.0 L45.2,204.1 L45.1,201.0Z" fill="#898989" stroke="#898989" stroke-width="0.5"/>
<path d="M45.1,201.0 L45.2,204.1" stroke="#111" stroke-width="1.0" fill="none" stroke-linecap="round"/>
<path d="M41.7,229.3 L43.4,226.1 L43.3,232.3 L41.7,235.5Z" fill="#404040" stroke="#404040" stroke-width="0.5"/>
<path d="M41.7,235.5 L43.3,232.3" stroke="#111" stroke-width="1.0" fill="none" stroke-linecap="round"/>
<path d="M43.4,226.1 L46.7,223.5 L46.7,229.6 L43.3,232.3Z" fill="#454545" stroke="#454545" stroke-width="0.5"/>
<path d="M43.3,232.3 L46.7,229.6" stroke="#111" stroke-width="1.0" fill="none" stroke-linecap="round"/>
<path d="M46.7,223.5 L51.4,221.6 L51.4,227.8 L46.7,229.6Z" fill="#6d6d6d" stroke="#6d6d6d" stroke-width="0.5"/>
<path d="M46.7,229.6 L51.4,227.8" stroke="#111" stroke-width="1.0" fill="none" stroke-linecap="round"/>
<path d="M51.4,221.6 L57.0,220.6 L57.0,226.8 L51.4,227.8Z" fill="#919191" stroke="#919191" stroke-width="0.5"/>
<path d="M51.4,227.8 L57.0,226.8" stroke="#111" stroke-width="1.0" fill="none" stroke-linecap="round"/>
<path d="M57.0,220.6 L63.0,220.7 L63.0,226.8 L57.0,226.8Z" fill="#acacac" stroke="#acacac" stroke-width="0.5"/>
<path d="M57.0,226.8 L63.0,226.8" stroke="#111" stroke-width="1.0" fill="none" stroke-linecap="round"/>
<path d="M63.0,220.7 L68.8,221.7 L68.7,227.9 L63.0,226.8Z" fill="#bebebe" stroke="#bebebe" stroke-width="0.5"/>
<path d="M63.0,226.8 L68.7,227.9" stroke="#111" stroke-width="1.0" fill="none" stroke-linecap="round"/>
<path d="M68.8,221.7 L73.8,223.7 L73.7,229.9 L68.7,227.9Z" fill="#c3c3c3" stroke="#c3c3c3" stroke-width="0.5"/>
<path d="M68.7,227.9 L73.7,229.9" stroke="#111" stroke-width="1.0" fill="none" stroke-linecap="round"/>
<path d="M73.8,223.7 L77.5,226.4 L77.4,232.6 L73.7,229.9Z" fill="#bbbbbb" stroke="#bbbbbb" stroke-width="0.5"/>
<path d="M73.7,229.9 L77.4,232.6" stroke="#111" stroke-width="1.0" fill="none" stroke-linecap="round"/>
<path d="M77.5,226.4 L87.8,236.8 L87.7,243.1 L77.4,232.6Z" fill="#b2b2b2" stroke="#b2b2b2" stroke-width="0.5"/>
<path d="M77.4,232.6 L87.7,243.1" stroke="#111" stroke-width="1.0" fill="none" stroke-linecap="round"/>
<path d="M87.8,236.8 L90.0,240.1 L89.9,246.3 L87.7,243.1Z" fill="#a7a7a7" stroke="#a7a7a7" stroke-width="0.5"/>
<path d="M87.7,243.1 L89.9,246.3" stroke="#111" stroke-width="1.0" fill="none" stroke-linecap="round"/>
<path d="M90.0,240.1 L90.3,243.5 L90.2,249.7 L89.9,246.3Z" fill="#898989" stroke="#898989" stroke-width="0.5"/>
<path d="M89.9,246.3 L90.2,249.7" stroke="#111" stroke-width="1.0" fill="none" stroke-linecap="round"/>
<path d="M87.8,277.2 L89.4,273.8 L89.3,280.2 L87.7,283.6Z" fill="#404040" stroke="#404040" stroke-width="0.5"/>
<path d="M87.7,283.6 L89.3,280.2" stroke="#111" stroke-width="1.0" fill="none" stroke-linecap="round"/>
<path d="M89.4,273.8 L92.8,271.0 L92.7,277.3 L89.3,280.2Z" fill="#454545" stroke="#454545" stroke-width="0.5"/>
<path d="M89.3,280.2 L92.7,277.3" stroke="#111" stroke-width="1.0" fill="none" stroke-linecap="round"/>
<path d="M92.8,271.0 L97.7,268.9 L97.6,275.3 L92.7,277.3Z" fill="#6d6d6d" stroke="#6d6d6d" stroke-width="0.5"/>
<path d="M92.7,277.3 L97.6,275.3" stroke="#111" stroke-width="1.0" fill="none" stroke-linecap="round"/>
<path d="M97.7,268.9 L103.5,267.9 L103.4,274.3 L97.6,275.3Z" fill="#919191" stroke="#919191" stroke-width="0.5"/>
<path d="M97.6,275.3 L103.4,274.3" stroke="#111" stroke-width="1.0" fill="none" stroke-linecap="round"/>
<path d="M103.5,267.9 L109.7,268.0 L109.6,274.3 L103.4,274.3Z" fill="#acacac" stroke="#acacac" stroke-width="0.5"/>
<path d="M103.4,274.3 L109.6,274.3" stroke="#111" stroke-width="1.0" fill="none" stroke-linecap="round"/>
<path d="M109.7,268.0 L115.8,269.2 L115.6,275.5 L109.6,274.3Z" fill="#bebebe" stroke="#bebebe" stroke-width="0.5"/>
<path d="M109.6,274.3 L115.6,275.5" stroke="#111" stroke-width="1.0" fill="none" stroke-linecap="round"/>
<path d="M115.8,269.2 L121.0,271.3 L120.9,277.7 L115.6,275.5Z" fill="#c3c3c3" stroke="#c3c3c3" stroke-width="0.5"/>
<path d="M115.6,275.5 L120.9,277.7" stroke="#111" stroke-width="1.0" fill="none" stroke-linecap="round"/>
<path d="M121.0,271.3 L125.1,274.3 L124.9,280.6 L120.9,277.7Z" fill="#bbbbbb" stroke="#bbbbbb" stroke-width="0.5"/>
<path d="M120.9,277.7 L124.9,280.6" stroke="#111" stroke-width="1.0" fill="none" stroke-linecap="round"/>
<path d="M125.1,274.3 L136.3,285.5 L136.1,291.9 L124.9,280.6Z" fill="#b2b2b2" stroke="#b2b2b2" stroke-width="0.5"/>
<path d="M124.9,280.6 L136.1,291.9" stroke="#111" stroke-width="1.0" fill="none" stroke-linecap="round"/>
<path d="M136.3,285.5 L138.7,289.0 L138.5,295.5 L136.1,291.9Z" fill="#a7a7a7" stroke="#a7a7a7" stroke-width="0.5"/>
<path d="M136.1,291.9 L138.5,295.5" stroke="#111" stroke-width="1.0" fill="none" stroke-linecap="round"/>
<path d="M138.7,289.0 L139.1,292.7 L138.9,299.2 L138.5,295.5Z" fill="#898989" stroke="#898989" stroke-width="0.5"/>
<path d="M138.5,295.5 L138.9,299.2" stroke="#111" stroke-width="1.0" fill="none" stroke-linecap="round"/>
<path d="M138.0,329.4 L139.5,325.7 L139.3,332.2 L137.8,335.9Z" fill="#404040" stroke="#404040" stroke-width="0.5"/>
<path d="M137.8,335.9 L139.3,332.2" stroke="#111" stroke-width="1.0" fill="none" stroke-linecap="round"/>
<path d="M139.5,325.7 L142.9,322.6 L142.7,329.1 L139.3,332.2Z" fill="#454545" stroke="#454545" stroke-width="0.5"/>
<path d="M139.3,332.2 L142.7,329.1" stroke="#111" stroke-width="1.0" fill="none" stroke-linecap="round"/>
<path d="M142.9,322.6 L147.9,320.4 L147.7,326.9 L142.7,329.1Z" fill="#6d6d6d" stroke="#6d6d6d" stroke-width="0.5"/>
<path d="M142.7,329.1 L147.7,326.9" stroke="#111" stroke-width="1.0" fill="none" stroke-linecap="round"/>
<path d="M147.9,320.4 L153.9,319.3 L153.7,325.8 L147.7,326.9Z" fill="#919191" stroke="#919191" stroke-width="0.5"/>
<path d="M147.7,326.9 L153.7,325.8" stroke="#111" stroke-width="1.0" fill="none" stroke-linecap="round"/>
<path d="M153.9,319.3 L160.4,319.4 L160.2,325.9 L153.7,325.8Z" fill="#acacac" stroke="#acacac" stroke-width="0.5"/>
<path d="M153.7,325.8 L160.2,325.9" stroke="#111" stroke-width="1.0" fill="none" stroke-linecap="round"/>
<path d="M160.4,319.4 L166.8,320.6 L166.5,327.2 L160.2,325.9Z" fill="#bebebe" stroke="#bebebe" stroke-width="0.5"/>
<path d="M160.2,325.9 L166.5,327.2" stroke="#111" stroke-width="1.0" fill="none" stroke-linecap="round"/>
<path d="M166.8,320.6 L172.4,323.0 L172.1,329.5 L166.5,327.2Z" fill="#c3c3c3" stroke="#c3c3c3" stroke-width="0.5"/>
<path d="M166.5,327.2 L172.1,329.5" stroke="#111" stroke-width="1.0" fill="none" stroke-linecap="round"/>
<path d="M172.4,323.0 L176.7,326.2 L176.5,332.7 L172.1,329.5Z" fill="#bbbbbb" stroke="#bbbbbb" stroke-width="0.5"/>
<path d="M172.1,329.5 L176.5,332.7" stroke="#111" stroke-width="1.0" fill="none" stroke-linecap="round"/>
<path d="M176.7,326.2 L188.9,338.4 L188.6,345.0 L176.5,332.7Z" fill="#b2b2b2" stroke="#b2b2b2" stroke-width="0.5"/>
<path d="M176.5,332.7 L188.6,345.0" stroke="#111" stroke-width="1.0" fill="none" stroke-linecap="round"/>
<path d="M188.9,338.4 L191.6,342.3 L191.3,348.9 L188.6,345.0Z" fill="#a7a7a7" stroke="#a7a7a7" stroke-width="0.5"/>
<path d="M188.6,345.0 L191.3,348.9" stroke="#111" stroke-width="1.0" fill="none" stroke-linecap="round"/>
<path d="M191.6,342.3 L192.2,346.3 L191.9,352.9 L191.3,348.9Z" fill="#898989" stroke="#898989" stroke-width="0.5"/>
<path d="M191.3,348.9 L191.9,352.9" stroke="#111" stroke-width="1.0" fill="none" stroke-linecap="round"/>
<path d="M192.6,386.2 L194.1,382.2 L193.7,388.9 L192.3,392.9Z" fill="#404040" stroke="#404040" stroke-width="0.5"/>
<path d="M192.3,392.9 L193.7,388.9" stroke="#111" stroke-width="1.0" fill="none" stroke-linecap="round"/>
<path d="M194.1,382.2 L197.5,378.8 L197.2,385.5 L193.7,388.9Z" fill="#454545" stroke="#454545" stroke-width="0.5"/>
<path d="M193.7,388.9 L197.2,385.5" stroke="#111" stroke-width="1.0" fill="none" stroke-linecap="round"/>
<path d="M197.5,378.8 L202.6,376.4 L202.3,383.1 L197.2,385.5Z" fill="#6d6d6d" stroke="#6d6d6d" stroke-width="0.5"/>
<path d="M197.2,385.5 L202.3,383.1" stroke="#111" stroke-width="1.0" fill="none" stroke-linecap="round"/>
<path d="M202.6,376.4 L208.9,375.2 L208.5,381.9 L202.3,383.1Z" fill="#919191" stroke="#919191" stroke-width="0.5"/>
<path d="M202.3,383.1 L208.5,381.9" stroke="#111" stroke-width="1.0" fill="none" stroke-linecap="round"/>
<path d="M208.9,375.2 L215.7,375.3 L215.3,382.0 L208.5,381.9Z" fill="#acacac" stroke="#acacac" stroke-width="0.5"/>
<path d="M208.5,381.9 L215.3,382.0" stroke="#111" stroke-width="1.0" fill="none" stroke-linecap="round"/>
<path d="M215.7,375.3 L222.4,376.7 L222.0,383.4 L215.3,382.0Z" fill="#bebebe" stroke="#bebebe" stroke-width="0.5"/>
<path d="M215.3,382.0 L222.0,383.4" stroke="#111" stroke-width="1.0" fill="none" stroke-linecap="round"/>
<path d="M222.4,376.7 L228.4,379.3 L228.0,386.0 L222.0,383.4Z" fill="#c3c3c3" stroke="#c3c3c3" stroke-width="0.5"/>
<path d="M222.0,383.4 L228.0,386.0" stroke="#111" stroke-width="1.0" fill="none" stroke-linecap="round"/>
<path d="M228.4,379.3 L233.0,382.8 L232.6,389.5 L228.0,386.0Z" fill="#bbbbbb" stroke="#bbbbbb" stroke-width="0.5"/>
<path d="M228.0,386.0 L232.6,389.5" stroke="#111" stroke-width="1.0" fill="none" stroke-linecap="round"/>
<path d="M233.0,382.8 L246.4,396.2 L245.9,403.0 L232.6,389.5Z" fill="#b2b2b2" stroke="#b2b2b2" stroke-width="0.5"/>
<path d="M232.6,389.5 L245.9,403.0" stroke="#111" stroke-width="1.0" fill="none" stroke-linecap="round"/>
<path d="M246.4,396.2 L249.3,400.4 L248.9,407.2 L245.9,403.0Z" fill="#a7a7a7" stroke="#a7a7a7" stroke-width="0.5"/>
<path d="M245.9,403.0 L248.9,407.2" stroke="#111" stroke-width="1.0" fill="none" stroke-linecap="round"/>
<path d="M249.3,400.4 L250.2,404.8 L249.8,411.6 L248.9,407.2Z" fill="#898989" stroke="#898989" stroke-width="0.5"/>
<path d="M248.9,407.2 L249.8,411.6" stroke="#111" stroke-width="1.0" fill="none" stroke-linecap="round"/>
<path d="M252.4,448.4 L253.8,444.0 L253.3,450.9 L251.9,455.3Z" fill="#404040" stroke="#404040" stroke-width="0.5"/>
<path d="M251.9,455.3 L253.3,450.9" stroke="#111" stroke-width="1.0" fill="none" stroke-linecap="round"/>
<path d="M253.8,444.0 L257.2,440.3 L256.8,447.2 L253.3,450.9Z" fill="#454545" stroke="#454545" stroke-width="0.5"/>
<path d="M253.3,450.9 L256.8,447.2" stroke="#111" stroke-width="1.0" fill="none" stroke-linecap="round"/>
<path d="M257.2,440.3 L262.5,437.7 L262.0,444.6 L256.8,447.2Z" fill="#6d6d6d" stroke="#6d6d6d" stroke-width="0.5"/>
<path d="M256.8,447.2 L262.0,444.6" stroke="#111" stroke-width="1.0" fill="none" stroke-linecap="round"/>
<path d="M262.5,437.7 L269.0,436.4 L268.5,443.3 L262.0,444.6Z" fill="#919191" stroke="#919191" stroke-width="0.5"/>
<path d="M262.0,444.6 L268.5,443.3" stroke="#111" stroke-width="1.0" fill="none" stroke-linecap="round"/>
<path d="M269.0,436.4 L276.1,436.5 L275.6,443.4 L268.5,443.3Z" fill="#acacac" stroke="#acacac" stroke-width="0.5"/>
<path d="M268.5,443.3 L275.6,443.4" stroke="#111" stroke-width="1.0" fill="none" stroke-linecap="round"/>
<path d="M276.1,436.5 L283.2,438.1 L282.7,445.0 L275.6,443.4Z" fill="#bebebe" stroke="#bebebe" stroke-width="0.5"/>
<path d="M275.6,443.4 L282.7,445.0" stroke="#111" stroke-width="1.0" fill="none" stroke-linecap="round"/>
<path d="M283.2,438.1 L289.6,440.9 L289.1,447.8 L282.7,445.0Z" fill="#c3c3c3" stroke="#c3c3c3" stroke-width="0.5"/>
<path d="M282.7,445.0 L289.1,447.8" stroke="#111" stroke-width="1.0" fill="none" stroke-linecap="round"/>
<path d="M289.6,440.9 L294.7,444.7 L294.1,451.7 L289.1,447.8Z" fill="#bbbbbb" stroke="#bbbbbb" stroke-width="0.5"/>
<path d="M289.1,447.8 L294.1,451.7" stroke="#111" stroke-width="1.0" fill="none" stroke-linecap="round"/>
<path d="M294.7,444.7 L309.3,459.4 L308.7,466.4 L294.1,451.7Z" fill="#b2b2b2" stroke="#b2b2b2" stroke-width="0.5"/>
<path d="M294.1,451.7 L308.7,466.4" stroke="#111" stroke-width="1.0" fill="none" stroke-linecap="round"/>
<path d="M309.3,459.4 L312.6,464.0 L312.0,471.0 L308.7,466.4Z" fill="#a7a7a7" stroke="#a7a7a7" stroke-width="0.5"/>
<path d="M308.7,466.4 L312.0,471.0" stroke="#111" stroke-width="1.0" fill="none" stroke-linecap="round"/>
<path d="M312.6,464.0 L313.7,468.8 L313.1,475.8 L312.0,471.0Z" fill="#898989" stroke="#898989" stroke-width="0.5"/>
<path d="M312.0,471.0 L313.1,475.8" stroke="#111" stroke-width="1.0" fill="none" stroke-linecap="round"/>
<path d="M318.1,516.7 L319.3,511.9 L318.7,519.0 L317.5,523.9Z" fill="#404040" stroke="#404040" stroke-width="0.5"/>
<path d="M317.5,523.9 L318.7,519.0" stroke="#111" stroke-width="1.0" fill="none" stroke-linecap="round"/>
<path d="M319.3,511.9 L322.8,507.9 L322.2,514.9 L318.7,519.0Z" fill="#454545" stroke="#454545" stroke-width="0.5"/>
<path d="M318.7,519.0 L322.2,514.9" stroke="#111" stroke-width="1.0" fill="none" stroke-linecap="round"/>
<path d="M322.8,507.9 L328.2,505.0 L327.5,512.1 L322.2,514.9Z" fill="#6d6d6d" stroke="#6d6d6d" stroke-width="0.5"/>
<path d="M322.2,514.9 L327.5,512.1" stroke="#111" stroke-width="1.0" fill="none" stroke-linecap="round"/>
<path d="M328.2,505.0 L335.0,503.6 L334.3,510.7 L327.5,512.1Z" fill="#919191" stroke="#919191" stroke-width="0.5"/>
<path d="M327.5,512.1 L334.3,510.7" stroke="#111" stroke-width="1.0" fill="none" stroke-linecap="round"/>
<path d="M335.0,503.6 L342.5,503.7 L341.8,510.8 L334.3,510.7Z" fill="#acacac" stroke="#acacac" stroke-width="0.5"/>
<path d="M334.3,510.7 L341.8,510.8" stroke="#111" stroke-width="1.0" fill="none" stroke-linecap="round"/>
<path d="M342.5,503.7 L350.0,505.4 L349.3,512.5 L341.8,510.8Z" fill="#bebebe" stroke="#bebebe" stroke-width="0.5"/>
<path d="M341.8,510.8 L349.3,512.5" stroke="#111" stroke-width="1.0" fill="none" stroke-linecap="round"/>
<path d="M350.0,505.4 L356.9,508.6 L356.2,515.7 L349.3,512.5Z" fill="#c3c3c3" stroke="#c3c3c3" stroke-width="0.5"/>
<path d="M349.3,512.5 L356.2,515.7" stroke="#111" stroke-width="1.0" fill="none" stroke-linecap="round"/>
<path d="M356.9,508.6 L362.4,512.8 L361.7,519.9 L356.2,515.7Z" fill="#bbbbbb" stroke="#bbbbbb" stroke-width="0.5"/>
<path d="M356.2,515.7 L361.7,519.9" stroke="#111" stroke-width="1.0" fill="none" stroke-linecap="round"/>
<path d="M362.4,512.8 L378.5,529.0 L377.7,536.1 L361.7,519.9Z" fill="#b2b2b2" stroke="#b2b2b2" stroke-width="0.5"/>
<path d="M361.7,519.9 L377.7,536.1" stroke="#111" stroke-width="1.0" fill="none" stroke-linecap="round"/>
<path d="M378.5,529.0 L382.2,534.0 L381.4,541.2 L377.7,536.1Z" fill="#a7a7a7" stroke="#a7a7a7" stroke-width="0.5"/>
<path d="M377.7,536.1 L381.4,541.2" stroke="#111" stroke-width="1.0" fill="none" stroke-linecap="round"/>
<path d="M382.2,534.0 L383.6,539.3 L382.8,546.5 L381.4,541.2Z" fill="#898989" stroke="#898989" stroke-width="0.5"/>
<path d="M381.4,541.2 L382.8,546.5" stroke="#111" stroke-width="1.0" fill="none" stroke-linecap="round"/>
<path d="M317.5,591.1 L454.7,540.3 L-441.0,-321.8 L-507.8,-311.6Z M322.8,526.9 L319.3,521.9 L318.1,516.7 L319.3,511.9 L322.8,507.9 L328.2,505.0 L335.0,503.6 L342.5,503.7 L350.0,505.4 L356.9,508.6 L362.4,512.8 L378.5,529.0 L382.2,534.0 L383.6,539.3 L382.6,544.4 L379.2,548.6 L373.7,551.7 L366.8,553.2 L359.0,553.0 L351.2,551.2 L344.2,547.8 L338.6,543.4Z M256.4,457.6 L253.3,453.1 L252.4,448.4 L253.8,444.0 L257.2,440.3 L262.5,437.7 L269.0,436.4 L276.1,436.5 L283.2,438.1 L289.6,440.9 L294.7,444.7 L309.3,459.4 L312.6,464.0 L313.7,468.8 L312.5,473.4 L309.1,477.3 L303.8,480.0 L297.1,481.4 L289.7,481.3 L282.4,479.6 L275.9,476.6 L270.7,472.6Z M196.1,394.6 L193.3,390.5 L192.6,386.2 L194.1,382.2 L197.5,378.8 L202.6,376.4 L208.9,375.2 L215.7,375.3 L222.4,376.7 L228.4,379.3 L233.0,382.8 L246.4,396.2 L249.3,400.4 L250.2,404.8 L248.9,408.9 L245.5,412.5 L240.3,415.0 L233.9,416.2 L226.8,416.1 L219.9,414.6 L213.8,411.9 L209.1,408.3Z M140.9,337.1 L138.4,333.3 L138.0,329.4 L139.5,325.7 L142.9,322.6 L147.9,320.4 L153.9,319.3 L160.4,319.4 L166.8,320.6 L172.4,323.0 L176.7,326.2 L188.9,338.4 L191.6,342.3 L192.2,346.3 L190.8,350.1 L187.4,353.3 L182.4,355.7 L176.2,356.8 L169.5,356.7 L163.0,355.4 L157.2,352.9 L152.9,349.6Z M90.4,284.4 L88.1,280.9 L87.8,277.2 L89.4,273.8 L92.8,271.0 L97.7,268.9 L103.5,267.9 L109.7,268.0 L115.8,269.2 L121.0,271.3 L125.1,274.3 L136.3,285.5 L138.7,289.0 L139.1,292.7 L137.6,296.2 L134.2,299.2 L129.3,301.4 L123.4,302.4 L117.0,302.4 L110.8,301.1 L105.4,298.9 L101.3,295.8Z M43.9,235.8 L41.8,232.6 L41.7,229.3 L43.4,226.1 L46.7,223.5 L51.4,221.6 L57.0,220.6 L63.0,220.7 L68.8,221.7 L73.8,223.7 L77.5,226.4 L87.8,236.8 L90.0,240.1 L90.3,243.5 L88.7,246.7 L85.4,249.5 L80.6,251.4 L74.9,252.5 L68.7,252.4 L62.8,251.3 L57.7,249.2 L54.0,246.3Z M0.9,191.0 L-0.9,188.0 L-1.0,184.9 L0.8,182.0 L4.1,179.6 L8.7,177.8 L14.1,176.9 L19.8,176.9 L25.3,177.9 L30.1,179.8 L33.6,182.3 L43.1,191.9 L45.1,194.9 L45.3,198.0 L43.6,201.0 L40.3,203.6 L35.7,205.4 L30.1,206.4 L24.2,206.3 L18.6,205.3 L13.8,203.3 L10.3,200.7Z M-38.8,149.5 L-40.5,146.7 L-40.4,143.9 L-38.7,141.1 L-35.4,138.9 L-30.9,137.2 L-25.7,136.4 L-20.2,136.4 L-14.9,137.3 L-10.4,139.0 L-7.2,141.4 L1.7,150.3 L3.5,153.0 L3.6,156.0 L1.9,158.8 L-1.4,161.1 L-5.9,162.8 L-11.3,163.7 L-16.9,163.7 L-22.3,162.7 L-26.9,160.9 L-30.2,158.5Z" fill="#d1d1d1" fill-rule="evenodd" stroke="none"/>
<path d="M322.8,526.9 L319.3,521.9 L318.1,516.7 L319.3,511.9 L322.8,507.9 L328.2,505.0 L335.0,503.6 L342.5,503.7 L350.0,505.4 L356.9,508.6 L362.4,512.8 L378.5,529.0 L382.2,534.0 L383.6,539.3 L382.6,544.4 L379.2,548.6 L373.7,551.7 L366.8,553.2 L359.0,553.0 L351.2,551.2 L344.2,547.8 L338.6,543.4Z M256.4,457.6 L253.3,453.1 L252.4,448.4 L253.8,444.0 L257.2,440.3 L262.5,437.7 L269.0,436.4 L276.1,436.5 L283.2,438.1 L289.6,440.9 L294.7,444.7 L309.3,459.4 L312.6,464.0 L313.7,468.8 L312.5,473.4 L309.1,477.3 L303.8,480.0 L297.1,481.4 L289.7,481.3 L282.4,479.6 L275.9,476.6 L270.7,472.6Z M196.1,394.6 L193.3,390.5 L192.6,386.2 L194.1,382.2 L197.5,378.8 L202.6,376.4 L208.9,375.2 L215.7,375.3 L222.4,376.7 L228.4,379.3 L233.0,382.8 L246.4,396.2 L249.3,400.4 L250.2,404.8 L248.9,408.9 L245.5,412.5 L240.3,415.0 L233.9,416.2 L226.8,416.1 L219.9,414.6 L213.8,411.9 L209.1,408.3Z M140.9,337.1 L138.4,333.3 L138.0,329.4 L139.5,325.7 L142.9,322.6 L147.9,320.4 L153.9,319.3 L160.4,319.4 L166.8,320.6 L172.4,323.0 L176.7,326.2 L188.9,338.4 L191.6,342.3 L192.2,346.3 L190.8,350.1 L187.4,353.3 L182.4,355.7 L176.2,356.8 L169.5,356.7 L163.0,355.4 L157.2,352.9 L152.9,349.6Z M90.4,284.4 L88.1,280.9 L87.8,277.2 L89.4,273.8 L92.8,271.0 L97.7,268.9 L103.5,267.9 L109.7,268.0 L115.8,269.2 L121.0,271.3 L125.1,274.3 L136.3,285.5 L138.7,289.0 L139.1,292.7 L137.6,296.2 L134.2,299.2 L129.3,301.4 L123.4,302.4 L117.0,302.4 L110.8,301.1 L105.4,298.9 L101.3,295.8Z M43.9,235.8 L41.8,232.6 L41.7,229.3 L43.4,226.1 L46.7,223.5 L51.4,221.6 L57.0,220.6 L63.0,220.7 L68.8,221.7 L73.8,223.7 L77.5,226.4 L87.8,236.8 L90.0,240.1 L90.3,243.5 L88.7,246.7 L85.4,249.5 L80.6,251.4 L74.9,252.5 L68.7,252.4 L62.8,251.3 L57.7,249.2 L54.0,246.3Z M0.9,191.0 L-0.9,188.0 L-1.0,184.9 L0.8,182.0 L4.1,179.6 L8.7,177.8 L14.1,176.9 L19.8,176.9 L25.3,177.9 L30.1,179.8 L33.6,182.3 L43.1,191.9 L45.1,194.9 L45.3,198.0 L43.6,201.0 L40.3,203.6 L35.7,205.4 L30.1,206.4 L24.2,206.3 L18.6,205.3 L13.8,203.3 L10.3,200.7Z M-38.8,149.5 L-40.5,146.7 L-40.4,143.9 L-38.7,141.1 L-35.4,138.9 L-30.9,137.2 L-25.7,136.4 L-20.2,136.4 L-14.9,137.3 L-10.4,139.0 L-7.2,141.4 L1.7,150.3 L3.5,153.0 L3.6,156.0 L1.9,158.8 L-1.4,161.1 L-5.9,162.8 L-11.3,163.7 L-16.9,163.7 L-22.3,162.7 L-26.9,160.9 L-30.2,158.5Z" fill="none" stroke="#111" stroke-width="1.90" stroke-linejoin="round"/>
<path d="M456.2,538.5 L456.1,538.8 L-440.4,-322.4 L-440.4,-322.5Z" fill="#c0c0c0" stroke="#c0c0c0" stroke-width="0.6"/>
<path d="M456.1,538.8 L456.0,539.1 L-440.4,-322.3 L-440.4,-322.4Z" fill="#d7d7d7" stroke="#d7d7d7" stroke-width="0.6"/>
<path d="M456.0,539.1 L455.9,539.3 L-440.5,-322.2 L-440.4,-322.3Z" fill="#e9e9e9" stroke="#e9e9e9" stroke-width="0.6"/>
<path d="M455.9,539.3 L455.7,539.6 L-440.6,-322.1 L-440.5,-322.2Z" fill="#f4f4f4" stroke="#f4f4f4" stroke-width="0.6"/>
<path d="M455.7,539.6 L455.5,539.8 L-440.6,-322.0 L-440.6,-322.1Z" fill="#f8f8f8" stroke="#f8f8f8" stroke-width="0.6"/>
<path d="M455.5,539.8 L455.2,540.0 L-440.7,-321.9 L-440.6,-322.0Z" fill="#f6f6f6" stroke="#f6f6f6" stroke-width="0.6"/>
<path d="M455.2,540.0 L455.0,540.2 L-440.9,-321.8 L-440.7,-321.9Z" fill="#ececec" stroke="#ececec" stroke-width="0.6"/>
<path d="M455.0,540.2 L454.7,540.3 L-441.0,-321.8 L-440.9,-321.8Z" fill="#dbdbdb" stroke="#dbdbdb" stroke-width="0.6"/>
<path d="M456.2,538.5 L-440.4,-322.5" stroke="#222" stroke-width="0.90" fill="none" stroke-linecap="butt"/>
<path d="M454.7,540.3 L-441.0,-321.8" stroke="#222" stroke-width="0.90" fill="none" stroke-linecap="butt"/>
<path d="M317.5,591.1 L317.2,591.2 L-508.0,-311.6 L-507.8,-311.6Z" fill="#c5c5c5" stroke="#c5c5c5" stroke-width="0.6"/>
<path d="M317.2,591.2 L316.9,591.2 L-508.1,-311.6 L-508.0,-311.6Z" fill="#aaaaaa" stroke="#aaaaaa" stroke-width="0.6"/>
<path d="M316.9,591.2 L316.7,591.2 L-508.2,-311.7 L-508.1,-311.6Z" fill="#8a8a8a" stroke="#8a8a8a" stroke-width="0.6"/>
<path d="M316.7,591.2 L316.5,591.1 L-508.3,-311.8 L-508.2,-311.7Z" fill="#686868" stroke="#686868" stroke-width="0.6"/>
<path d="M316.5,591.1 L316.3,591.0 L-508.4,-311.8 L-508.3,-311.8Z" fill="#444444" stroke="#444444" stroke-width="0.6"/>
<path d="M317.5,591.1 L-507.8,-311.6" stroke="#222" stroke-width="0.90" fill="none" stroke-linecap="butt"/>
<path d="M316.3,591.0 L-508.4,-311.8" stroke="#111" stroke-width="2.00" fill="none" stroke-linecap="butt"/>
<path d="M470.7,424.7 L470.9,424.8 L-447.3,-381.1 L-447.4,-381.2Z" fill="#404040" stroke="#404040" stroke-width="0.6"/>
<path d="M470.9,424.8 L471.0,425.0 L-447.2,-381.0 L-447.3,-381.1Z" fill="#616161" stroke="#616161" stroke-width="0.6"/>
<path d="M471.0,425.0 L471.0,425.2 L-447.2,-380.9 L-447.2,-381.0Z" fill="#848484" stroke="#848484" stroke-width="0.6"/>
<path d="M471.0,425.2 L471.0,425.5 L-447.2,-380.7 L-447.2,-380.9Z" fill="#a4a4a4" stroke="#a4a4a4" stroke-width="0.6"/>
<path d="M470.7,424.7 L-447.4,-381.2" stroke="#111" stroke-width="2.00" fill="none" stroke-linecap="butt"/>
<path d="M471.0,425.5 L-447.2,-380.7" stroke="#222" stroke-width="0.90" fill="none" stroke-linecap="butt"/>
<path d="M476.8,417.5 L475.5,416.8 L-445.9,-384.7 L-445.1,-384.2Z" fill="#686868" stroke="#686868" stroke-width="0.6"/>
<path d="M475.5,416.8 L473.9,416.5 L-446.8,-385.1 L-445.9,-384.7Z" fill="#8a8a8a" stroke="#8a8a8a" stroke-width="0.6"/>
<path d="M473.9,416.5 L472.1,416.6 L-447.7,-385.2 L-446.8,-385.1Z" fill="#aaaaaa" stroke="#aaaaaa" stroke-width="0.6"/>
<path d="M472.1,416.6 L470.3,417.1 L-448.6,-385.2 L-447.7,-385.2Z" fill="#c5c5c5" stroke="#c5c5c5" stroke-width="0.6"/>
<path d="M470.3,417.1 L450.6,423.8 L-458.2,-383.8 L-448.6,-385.2Z" fill="#d1d1d1" stroke="#d1d1d1" stroke-width="0.6"/>
<path d="M450.6,423.8 L448.7,424.7 L-459.1,-383.6 L-458.2,-383.8Z" fill="#dbdbdb" stroke="#dbdbdb" stroke-width="0.6"/>
<path d="M448.7,424.7 L446.8,425.9 L-460.0,-383.2 L-459.1,-383.6Z" fill="#ececec" stroke="#ececec" stroke-width="0.6"/>
<path d="M446.8,425.9 L445.0,427.3 L-460.7,-382.6 L-460.0,-383.2Z" fill="#f6f6f6" stroke="#f6f6f6" stroke-width="0.6"/>
<path d="M445.0,427.3 L443.3,429.1 L-461.4,-381.9 L-460.7,-382.6Z" fill="#f8f8f8" stroke="#f8f8f8" stroke-width="0.6"/>
<path d="M443.3,429.1 L441.9,431.0 L-461.9,-381.1 L-461.4,-381.9Z" fill="#f4f4f4" stroke="#f4f4f4" stroke-width="0.6"/>
<path d="M441.9,431.0 L440.8,433.0 L-462.2,-380.2 L-461.9,-381.1Z" fill="#e9e9e9" stroke="#e9e9e9" stroke-width="0.6"/>
<path d="M440.8,433.0 L440.0,435.0 L-462.4,-379.2 L-462.2,-380.2Z" fill="#d7d7d7" stroke="#d7d7d7" stroke-width="0.6"/>
<path d="M440.0,435.0 L439.6,436.9 L-462.4,-378.3 L-462.4,-379.2Z" fill="#c0c0c0" stroke="#c0c0c0" stroke-width="0.6"/>
<path d="M439.6,436.9 L438.4,446.6 L-461.8,-373.4 L-462.4,-378.3Z" fill="#b2b2b2" stroke="#b2b2b2" stroke-width="0.6"/>
<path d="M476.8,417.5 L-445.1,-384.2" stroke="#111" stroke-width="2.00" fill="none" stroke-linecap="butt"/>
<path d="M470.3,417.1 L-448.6,-385.2" stroke="#222" stroke-width="0.90" fill="none" stroke-linecap="butt"/>
<path d="M450.6,423.8 L-458.2,-383.8" stroke="#222" stroke-width="0.90" fill="none" stroke-linecap="butt"/>
<path d="M439.6,436.9 L-462.4,-378.3" stroke="#222" stroke-width="0.90" fill="none" stroke-linecap="butt"/>
<path d="M438.4,446.6 L-461.8,-373.4" stroke="#111" stroke-width="2.00" fill="none" stroke-linecap="butt"/>
<path d="M350.8,466.6 L351.0,466.9 L-504.8,-372.7 L-505.0,-372.8Z" fill="#616161" stroke="#616161" stroke-width="0.6"/>
<path d="M351.0,466.9 L351.1,467.2 L-504.8,-372.5 L-504.8,-372.7Z" fill="#848484" stroke="#848484" stroke-width="0.6"/>
<path d="M351.1,467.2 L351.1,467.6 L-504.7,-372.3 L-504.8,-372.5Z" fill="#a4a4a4" stroke="#a4a4a4" stroke-width="0.6"/>
<path d="M351.1,467.6 L350.1,477.4 L-504.1,-367.4 L-504.7,-372.3Z" fill="#b2b2b2" stroke="#b2b2b2" stroke-width="0.6"/>
<path d="M350.8,466.6 L-505.0,-372.8" stroke="#111" stroke-width="2.00" fill="none" stroke-linecap="butt"/>
<path d="M351.1,467.6 L-504.7,-372.3" stroke="#222" stroke-width="0.90" fill="none" stroke-linecap="butt"/>
<path d="M350.1,477.4 L-504.1,-367.4" stroke="#111" stroke-width="1.80" fill="none" stroke-linecap="butt"/>
<path d="M-5.1,216.8 L-7.9,212.9 L-1.2,211.1 L1.6,214.9Z" fill="#d9d9d9" stroke="#d9d9d9" stroke-width="0.5"/>
<path d="M1.6,214.9 L-1.2,211.1" stroke="#111" stroke-width="1.0" fill="none" stroke-linecap="round"/>
<path d="M-7.9,212.9 L-10.4,207.9 L-3.8,206.1 L-1.2,211.1Z" fill="#dedede" stroke="#dedede" stroke-width="0.5"/>
<path d="M-1.2,211.1 L-3.8,206.1" stroke="#111" stroke-width="1.0" fill="none" stroke-linecap="round"/>
<path d="M-10.4,207.9 L-12.5,202.1 L-5.8,200.3 L-3.8,206.1Z" fill="#d3d3d3" stroke="#d3d3d3" stroke-width="0.5"/>
<path d="M-3.8,206.1 L-5.8,200.3" stroke="#111" stroke-width="1.0" fill="none" stroke-linecap="round"/>
<path d="M-12.5,202.1 L-13.8,196.1 L-7.1,194.3 L-5.8,200.3Z" fill="#bababa" stroke="#bababa" stroke-width="0.5"/>
<path d="M-5.8,200.3 L-7.1,194.3" stroke="#111" stroke-width="1.0" fill="none" stroke-linecap="round"/>
<path d="M-13.8,196.1 L-14.3,190.5 L-7.6,188.7 L-7.1,194.3Z" fill="#959595" stroke="#959595" stroke-width="0.5"/>
<path d="M-7.1,194.3 L-7.6,188.7" stroke="#111" stroke-width="1.0" fill="none" stroke-linecap="round"/>
<path d="M-14.3,190.5 L-13.9,185.8 L-7.2,184.0 L-7.6,188.7Z" fill="#686868" stroke="#686868" stroke-width="0.5"/>
<path d="M-7.6,188.7 L-7.2,184.0" stroke="#111" stroke-width="1.0" fill="none" stroke-linecap="round"/>
<path d="M-13.9,185.8 L-12.7,182.5 L-6.0,180.7 L-7.2,184.0Z" fill="#404040" stroke="#404040" stroke-width="0.5"/>
<path d="M-7.2,184.0 L-6.0,180.7" stroke="#111" stroke-width="1.0" fill="none" stroke-linecap="round"/>
<path d="M-12.7,182.5 L-10.8,180.9 L-4.0,179.1 L-6.0,180.7Z" fill="#404040" stroke="#404040" stroke-width="0.5"/>
<path d="M-6.0,180.7 L-4.0,179.1" stroke="#111" stroke-width="1.0" fill="none" stroke-linecap="round"/>
<path d="M10.2,230.0 L7.6,229.6 L14.3,227.7 L16.9,228.1Z" fill="#a5a5a5" stroke="#a5a5a5" stroke-width="0.5"/>
<path d="M16.9,228.1 L14.3,227.7" stroke="#111" stroke-width="1.0" fill="none" stroke-linecap="round"/>
<path d="M7.6,229.6 L4.7,227.3 L11.5,225.5 L14.3,227.7Z" fill="#c5c5c5" stroke="#c5c5c5" stroke-width="0.5"/>
<path d="M14.3,227.7 L11.5,225.5" stroke="#111" stroke-width="1.0" fill="none" stroke-linecap="round"/>
<path d="M4.7,227.3 L-5.1,216.8 L1.6,214.9 L11.5,225.5Z" fill="#d1d1d1" stroke="#d1d1d1" stroke-width="0.5"/>
<path d="M11.5,225.5 L1.6,214.9" stroke="#111" stroke-width="1.0" fill="none" stroke-linecap="round"/>
<path d="M40.3,265.5 L37.2,261.4 L44.1,259.4 L47.2,263.5Z" fill="#d9d9d9" stroke="#d9d9d9" stroke-width="0.5"/>
<path d="M47.2,263.5 L44.1,259.4" stroke="#111" stroke-width="1.0" fill="none" stroke-linecap="round"/>
<path d="M37.2,261.4 L34.5,256.0 L41.4,254.1 L44.1,259.4Z" fill="#dedede" stroke="#dedede" stroke-width="0.5"/>
<path d="M44.1,259.4 L41.4,254.1" stroke="#111" stroke-width="1.0" fill="none" stroke-linecap="round"/>
<path d="M34.5,256.0 L32.4,250.0 L39.2,248.0 L41.4,254.1Z" fill="#d3d3d3" stroke="#d3d3d3" stroke-width="0.5"/>
<path d="M41.4,254.1 L39.2,248.0" stroke="#111" stroke-width="1.0" fill="none" stroke-linecap="round"/>
<path d="M32.4,250.0 L31.0,243.7 L37.9,241.8 L39.2,248.0Z" fill="#bababa" stroke="#bababa" stroke-width="0.5"/>
<path d="M39.2,248.0 L37.9,241.8" stroke="#111" stroke-width="1.0" fill="none" stroke-linecap="round"/>
<path d="M31.0,243.7 L30.5,237.9 L37.4,236.0 L37.9,241.8Z" fill="#959595" stroke="#959595" stroke-width="0.5"/>
<path d="M37.9,241.8 L37.4,236.0" stroke="#111" stroke-width="1.0" fill="none" stroke-linecap="round"/>
<path d="M30.5,237.9 L31.0,233.1 L37.9,231.2 L37.4,236.0Z" fill="#686868" stroke="#686868" stroke-width="0.5"/>
<path d="M37.4,236.0 L37.9,231.2" stroke="#111" stroke-width="1.0" fill="none" stroke-linecap="round"/>
<path d="M31.0,233.1 L32.4,229.8 L39.3,227.8 L37.9,231.2Z" fill="#404040" stroke="#404040" stroke-width="0.5"/>
<path d="M37.9,231.2 L39.3,227.8" stroke="#111" stroke-width="1.0" fill="none" stroke-linecap="round"/>
<path d="M32.4,229.8 L34.5,228.2 L41.5,226.3 L39.3,227.8Z" fill="#404040" stroke="#404040" stroke-width="0.5"/>
<path d="M39.3,227.8 L41.5,226.3" stroke="#111" stroke-width="1.0" fill="none" stroke-linecap="round"/>
<path d="M56.9,280.0 L54.1,279.4 L61.0,277.4 L63.9,278.0Z" fill="#a5a5a5" stroke="#a5a5a5" stroke-width="0.5"/>
<path d="M63.9,278.0 L61.0,277.4" stroke="#111" stroke-width="1.0" fill="none" stroke-linecap="round"/>
<path d="M54.1,279.4 L51.0,276.9 L57.9,274.9 L61.0,277.4Z" fill="#c5c5c5" stroke="#c5c5c5" stroke-width="0.5"/>
<path d="M61.0,277.4 L57.9,274.9" stroke="#111" stroke-width="1.0" fill="none" stroke-linecap="round"/>
<path d="M51.0,276.9 L40.3,265.5 L47.2,263.5 L57.9,274.9Z" fill="#d1d1d1" stroke="#d1d1d1" stroke-width="0.5"/>
<path d="M57.9,274.9 L47.2,263.5" stroke="#111" stroke-width="1.0" fill="none" stroke-linecap="round"/>
<path d="M89.6,318.5 L86.3,314.1 L93.5,311.9 L96.8,316.3Z" fill="#d9d9d9" stroke="#d9d9d9" stroke-width="0.5"/>
<path d="M96.8,316.3 L93.5,311.9" stroke="#111" stroke-width="1.0" fill="none" stroke-linecap="round"/>
<path d="M86.3,314.1 L83.4,308.4 L90.5,306.3 L93.5,311.9Z" fill="#dedede" stroke="#dedede" stroke-width="0.5"/>
<path d="M93.5,311.9 L90.5,306.3" stroke="#111" stroke-width="1.0" fill="none" stroke-linecap="round"/>
<path d="M83.4,308.4 L81.1,302.0 L88.2,299.9 L90.5,306.3Z" fill="#d3d3d3" stroke="#d3d3d3" stroke-width="0.5"/>
<path d="M90.5,306.3 L88.2,299.9" stroke="#111" stroke-width="1.0" fill="none" stroke-linecap="round"/>
<path d="M81.1,302.0 L79.7,295.5 L86.8,293.4 L88.2,299.9Z" fill="#bababa" stroke="#bababa" stroke-width="0.5"/>
<path d="M88.2,299.9 L86.8,293.4" stroke="#111" stroke-width="1.0" fill="none" stroke-linecap="round"/>
<path d="M79.7,295.5 L79.2,289.5 L86.4,287.4 L86.8,293.4Z" fill="#959595" stroke="#959595" stroke-width="0.5"/>
<path d="M86.8,293.4 L86.4,287.4" stroke="#111" stroke-width="1.0" fill="none" stroke-linecap="round"/>
<path d="M79.2,289.5 L79.8,284.6 L87.0,282.5 L86.4,287.4Z" fill="#686868" stroke="#686868" stroke-width="0.5"/>
<path d="M86.4,287.4 L87.0,282.5" stroke="#111" stroke-width="1.0" fill="none" stroke-linecap="round"/>
<path d="M79.8,284.6 L81.4,281.2 L88.6,279.2 L87.0,282.5Z" fill="#404040" stroke="#404040" stroke-width="0.5"/>
<path d="M87.0,282.5 L88.6,279.2" stroke="#111" stroke-width="1.0" fill="none" stroke-linecap="round"/>
<path d="M81.4,281.2 L83.8,279.8 L91.0,277.7 L88.6,279.2Z" fill="#404040" stroke="#404040" stroke-width="0.5"/>
<path d="M88.6,279.2 L91.0,277.7" stroke="#111" stroke-width="1.0" fill="none" stroke-linecap="round"/>
<path d="M107.8,334.5 L104.7,333.8 L111.9,331.6 L115.1,332.4Z" fill="#a5a5a5" stroke="#a5a5a5" stroke-width="0.5"/>
<path d="M115.1,332.4 L111.9,331.6" stroke="#111" stroke-width="1.0" fill="none" stroke-linecap="round"/>
<path d="M104.7,333.8 L101.3,331.0 L108.5,328.8 L111.9,331.6Z" fill="#c5c5c5" stroke="#c5c5c5" stroke-width="0.5"/>
<path d="M111.9,331.6 L108.5,328.8" stroke="#111" stroke-width="1.0" fill="none" stroke-linecap="round"/>
<path d="M101.3,331.0 L89.6,318.5 L96.8,316.3 L108.5,328.8Z" fill="#d1d1d1" stroke="#d1d1d1" stroke-width="0.5"/>
<path d="M108.5,328.8 L96.8,316.3" stroke="#111" stroke-width="1.0" fill="none" stroke-linecap="round"/>
<path d="M143.6,376.4 L140.0,371.6 L147.4,369.3 L151.0,374.1Z" fill="#d9d9d9" stroke="#d9d9d9" stroke-width="0.5"/>
<path d="M151.0,374.1 L147.4,369.3" stroke="#111" stroke-width="1.0" fill="none" stroke-linecap="round"/>
<path d="M140.0,371.6 L136.8,365.6 L144.2,363.3 L147.4,369.3Z" fill="#dedede" stroke="#dedede" stroke-width="0.5"/>
<path d="M147.4,369.3 L144.2,363.3" stroke="#111" stroke-width="1.0" fill="none" stroke-linecap="round"/>
<path d="M136.8,365.6 L134.4,358.8 L141.8,356.6 L144.2,363.3Z" fill="#d3d3d3" stroke="#d3d3d3" stroke-width="0.5"/>
<path d="M144.2,363.3 L141.8,356.6" stroke="#111" stroke-width="1.0" fill="none" stroke-linecap="round"/>
<path d="M134.4,358.8 L132.9,352.1 L140.3,349.8 L141.8,356.6Z" fill="#bababa" stroke="#bababa" stroke-width="0.5"/>
<path d="M141.8,356.6 L140.3,349.8" stroke="#111" stroke-width="1.0" fill="none" stroke-linecap="round"/>
<path d="M132.9,352.1 L132.5,345.8 L139.9,343.6 L140.3,349.8Z" fill="#959595" stroke="#959595" stroke-width="0.5"/>
<path d="M140.3,349.8 L139.9,343.6" stroke="#111" stroke-width="1.0" fill="none" stroke-linecap="round"/>
<path d="M132.5,345.8 L133.2,340.8 L140.6,338.6 L139.9,343.6Z" fill="#686868" stroke="#686868" stroke-width="0.5"/>
<path d="M139.9,343.6 L140.6,338.6" stroke="#111" stroke-width="1.0" fill="none" stroke-linecap="round"/>
<path d="M133.2,340.8 L135.0,337.5 L142.4,335.2 L140.6,338.6Z" fill="#404040" stroke="#404040" stroke-width="0.5"/>
<path d="M140.6,338.6 L142.4,335.2" stroke="#111" stroke-width="1.0" fill="none" stroke-linecap="round"/>
<path d="M135.0,337.5 L137.7,336.1 L145.2,333.9 L142.4,335.2Z" fill="#404040" stroke="#404040" stroke-width="0.5"/>
<path d="M142.4,335.2 L145.2,333.9" stroke="#111" stroke-width="1.0" fill="none" stroke-linecap="round"/>
<path d="M163.6,394.2 L160.1,393.2 L167.6,390.8 L171.1,391.9Z" fill="#a5a5a5" stroke="#a5a5a5" stroke-width="0.5"/>
<path d="M171.1,391.9 L167.6,390.8" stroke="#111" stroke-width="1.0" fill="none" stroke-linecap="round"/>
<path d="M160.1,393.2 L156.4,390.1 L163.8,387.8 L167.6,390.8Z" fill="#c5c5c5" stroke="#c5c5c5" stroke-width="0.5"/>
<path d="M167.6,390.8 L163.8,387.8" stroke="#111" stroke-width="1.0" fill="none" stroke-linecap="round"/>
<path d="M156.4,390.1 L143.6,376.4 L151.0,374.1 L163.8,387.8Z" fill="#d1d1d1" stroke="#d1d1d1" stroke-width="0.5"/>
<path d="M163.8,387.8 L151.0,374.1" stroke="#111" stroke-width="1.0" fill="none" stroke-linecap="round"/>
<path d="M202.8,440.0 L198.9,434.8 L206.5,432.3 L210.4,437.4Z" fill="#d9d9d9" stroke="#d9d9d9" stroke-width="0.5"/>
<path d="M210.4,437.4 L206.5,432.3" stroke="#111" stroke-width="1.0" fill="none" stroke-linecap="round"/>
<path d="M198.9,434.8 L195.4,428.3 L203.0,425.8 L206.5,432.3Z" fill="#dedede" stroke="#dedede" stroke-width="0.5"/>
<path d="M206.5,432.3 L203.0,425.8" stroke="#111" stroke-width="1.0" fill="none" stroke-linecap="round"/>
<path d="M195.4,428.3 L192.8,421.2 L200.4,418.7 L203.0,425.8Z" fill="#d3d3d3" stroke="#d3d3d3" stroke-width="0.5"/>
<path d="M203.0,425.8 L200.4,418.7" stroke="#111" stroke-width="1.0" fill="none" stroke-linecap="round"/>
<path d="M192.8,421.2 L191.2,414.1 L198.9,411.6 L200.4,418.7Z" fill="#bababa" stroke="#bababa" stroke-width="0.5"/>
<path d="M200.4,418.7 L198.9,411.6" stroke="#111" stroke-width="1.0" fill="none" stroke-linecap="round"/>
<path d="M191.2,414.1 L190.9,407.6 L198.5,405.2 L198.9,411.6Z" fill="#959595" stroke="#959595" stroke-width="0.5"/>
<path d="M198.9,411.6 L198.5,405.2" stroke="#111" stroke-width="1.0" fill="none" stroke-linecap="round"/>
<path d="M190.9,407.6 L191.8,402.5 L199.4,400.0 L198.5,405.2Z" fill="#686868" stroke="#686868" stroke-width="0.5"/>
<path d="M198.5,405.2 L199.4,400.0" stroke="#111" stroke-width="1.0" fill="none" stroke-linecap="round"/>
<path d="M191.8,402.5 L193.8,399.2 L201.5,396.7 L199.4,400.0Z" fill="#404040" stroke="#404040" stroke-width="0.5"/>
<path d="M199.4,400.0 L201.5,396.7" stroke="#111" stroke-width="1.0" fill="none" stroke-linecap="round"/>
<path d="M193.8,399.2 L196.9,398.0 L204.6,395.5 L201.5,396.7Z" fill="#404040" stroke="#404040" stroke-width="0.5"/>
<path d="M201.5,396.7 L204.6,395.5" stroke="#111" stroke-width="1.0" fill="none" stroke-linecap="round"/>
<path d="M228.1,458.8 L224.8,459.8 L232.6,457.2 L235.8,456.2Z" fill="#7a7a7a" stroke="#7a7a7a" stroke-width="0.5"/>
<path d="M235.8,456.2 L232.6,457.2" stroke="#111" stroke-width="1.0" fill="none" stroke-linecap="round"/>
<path d="M224.8,459.8 L221.0,458.5 L228.7,455.9 L232.6,457.2Z" fill="#a5a5a5" stroke="#a5a5a5" stroke-width="0.5"/>
<path d="M232.6,457.2 L228.7,455.9" stroke="#111" stroke-width="1.0" fill="none" stroke-linecap="round"/>
<path d="M221.0,458.5 L216.8,455.0 L224.6,452.5 L228.7,455.9Z" fill="#c5c5c5" stroke="#c5c5c5" stroke-width="0.5"/>
<path d="M228.7,455.9 L224.6,452.5" stroke="#111" stroke-width="1.0" fill="none" stroke-linecap="round"/>
<path d="M216.8,455.0 L202.8,440.0 L210.4,437.4 L224.6,452.5Z" fill="#d1d1d1" stroke="#d1d1d1" stroke-width="0.5"/>
<path d="M224.6,452.5 L210.4,437.4" stroke="#111" stroke-width="1.0" fill="none" stroke-linecap="round"/>
<path d="M268.0,510.0 L263.7,504.3 L271.6,501.6 L276.0,507.2Z" fill="#d9d9d9" stroke="#d9d9d9" stroke-width="0.5"/>
<path d="M276.0,507.2 L271.6,501.6" stroke="#111" stroke-width="1.0" fill="none" stroke-linecap="round"/>
<path d="M263.7,504.3 L259.9,497.4 L267.9,494.7 L271.6,501.6Z" fill="#dedede" stroke="#dedede" stroke-width="0.5"/>
<path d="M271.6,501.6 L267.9,494.7" stroke="#111" stroke-width="1.0" fill="none" stroke-linecap="round"/>
<path d="M259.9,497.4 L257.1,489.8 L265.0,487.1 L267.9,494.7Z" fill="#d3d3d3" stroke="#d3d3d3" stroke-width="0.5"/>
<path d="M267.9,494.7 L265.0,487.1" stroke="#111" stroke-width="1.0" fill="none" stroke-linecap="round"/>
<path d="M257.1,489.8 L255.5,482.4 L263.4,479.7 L265.0,487.1Z" fill="#bababa" stroke="#bababa" stroke-width="0.5"/>
<path d="M265.0,487.1 L263.4,479.7" stroke="#111" stroke-width="1.0" fill="none" stroke-linecap="round"/>
<path d="M255.5,482.4 L255.2,475.7 L263.1,473.0 L263.4,479.7Z" fill="#959595" stroke="#959595" stroke-width="0.5"/>
<path d="M263.4,479.7 L263.1,473.0" stroke="#111" stroke-width="1.0" fill="none" stroke-linecap="round"/>
<path d="M255.2,475.7 L256.3,470.5 L264.2,467.8 L263.1,473.0Z" fill="#686868" stroke="#686868" stroke-width="0.5"/>
<path d="M263.1,473.0 L264.2,467.8" stroke="#111" stroke-width="1.0" fill="none" stroke-linecap="round"/>
<path d="M256.3,470.5 L258.7,467.2 L266.6,464.5 L264.2,467.8Z" fill="#404040" stroke="#404040" stroke-width="0.5"/>
<path d="M264.2,467.8 L266.6,464.5" stroke="#111" stroke-width="1.0" fill="none" stroke-linecap="round"/>
<path d="M296.1,531.5 L292.5,532.2 L300.5,529.4 L304.2,528.6Z" fill="#7a7a7a" stroke="#7a7a7a" stroke-width="0.5"/>
<path d="M304.2,528.6 L300.5,529.4" stroke="#111" stroke-width="1.0" fill="none" stroke-linecap="round"/>
<path d="M292.5,532.2 L288.2,530.6 L296.2,527.7 L300.5,529.4Z" fill="#a5a5a5" stroke="#a5a5a5" stroke-width="0.5"/>
<path d="M300.5,529.4 L296.2,527.7" stroke="#111" stroke-width="1.0" fill="none" stroke-linecap="round"/>
<path d="M288.2,530.6 L283.6,526.7 L291.6,523.8 L296.2,527.7Z" fill="#c5c5c5" stroke="#c5c5c5" stroke-width="0.5"/>
<path d="M296.2,527.7 L291.6,523.8" stroke="#111" stroke-width="1.0" fill="none" stroke-linecap="round"/>
<path d="M283.6,526.7 L268.0,510.0 L276.0,507.2 L291.6,523.8Z" fill="#d1d1d1" stroke="#d1d1d1" stroke-width="0.5"/>
<path d="M291.6,523.8 L276.0,507.2" stroke="#111" stroke-width="1.0" fill="none" stroke-linecap="round"/>
<path d="M308.2,592.8 L318.0,479.0 L-520.3,-370.1 L-512.5,-311.9Z M268.0,510.0 L263.7,504.3 L259.9,497.4 L257.1,489.8 L255.5,482.4 L255.2,475.7 L256.3,470.5 L258.7,467.2 L262.1,466.2 L266.3,467.6 L270.8,471.3 L286.6,487.7 L291.1,493.5 L295.0,500.6 L298.0,508.4 L299.7,516.2 L299.9,523.0 L298.7,528.3 L296.1,531.5 L292.5,532.2 L288.2,530.6 L283.6,526.7Z M202.8,440.0 L198.9,434.8 L195.4,428.3 L192.8,421.2 L191.2,414.1 L190.9,407.6 L191.8,402.5 L193.8,399.2 L196.9,398.0 L200.6,399.1 L204.7,402.3 L218.9,417.2 L223.0,422.4 L226.6,429.1 L229.4,436.5 L231.0,443.8 L231.3,450.4 L230.3,455.6 L228.1,458.8 L224.8,459.8 L221.0,458.5 L216.8,455.0Z M143.6,376.4 L140.0,371.6 L136.8,365.6 L134.4,358.8 L132.9,352.1 L132.5,345.8 L133.2,340.8 L135.0,337.5 L137.7,336.1 L141.1,336.9 L144.8,339.9 L157.7,353.3 L161.4,358.2 L164.7,364.4 L167.3,371.3 L168.8,378.4 L169.2,384.7 L168.4,389.8 L166.4,393.1 L163.6,394.2 L160.1,393.2 L156.4,390.1Z M89.6,318.5 L86.3,314.1 L83.4,308.4 L81.1,302.0 L79.7,295.5 L79.2,289.5 L79.8,284.6 L81.4,281.2 L83.8,279.8 L86.9,280.4 L90.2,283.0 L102.0,295.3 L105.4,299.7 L108.5,305.5 L110.9,312.1 L112.3,318.8 L112.8,325.0 L112.1,329.9 L110.4,333.2 L107.8,334.5 L104.7,333.8 L101.3,331.0Z M40.3,265.5 L37.2,261.4 L34.5,256.0 L32.4,250.0 L31.0,243.7 L30.5,237.9 L31.0,233.1 L32.4,229.8 L34.5,228.2 L37.3,228.6 L40.3,231.0 L51.1,242.2 L54.3,246.3 L57.1,251.8 L59.3,258.1 L60.8,264.5 L61.2,270.4 L60.7,275.3 L59.2,278.6 L56.9,280.0 L54.1,279.4 L51.0,276.9Z M-5.1,216.8 L-7.9,212.9 L-10.4,207.9 L-12.5,202.1 L-13.8,196.1 L-14.3,190.5 L-13.9,185.8 L-12.7,182.5 L-10.8,180.9 L-8.3,181.1 L-5.5,183.2 L4.5,193.6 L7.4,197.4 L10.0,202.6 L12.1,208.5 L13.5,214.7 L13.9,220.4 L13.5,225.2 L12.2,228.4 L10.2,230.0 L7.6,229.6 L4.7,227.3Z" fill="#b2b2b2" fill-rule="evenodd" stroke="none"/>
<path d="M268.0,510.0 L263.7,504.3 L259.9,497.4 L257.1,489.8 L255.5,482.4 L255.2,475.7 L256.3,470.5 L258.7,467.2 L262.1,466.2 L266.3,467.6 L270.8,471.3 L286.6,487.7 L291.1,493.5 L295.0,500.6 L298.0,508.4 L299.7,516.2 L299.9,523.0 L298.7,528.3 L296.1,531.5 L292.5,532.2 L288.2,530.6 L283.6,526.7Z M202.8,440.0 L198.9,434.8 L195.4,428.3 L192.8,421.2 L191.2,414.1 L190.9,407.6 L191.8,402.5 L193.8,399.2 L196.9,398.0 L200.6,399.1 L204.7,402.3 L218.9,417.2 L223.0,422.4 L226.6,429.1 L229.4,436.5 L231.0,443.8 L231.3,450.4 L230.3,455.6 L228.1,458.8 L224.8,459.8 L221.0,458.5 L216.8,455.0Z M143.6,376.4 L140.0,371.6 L136.8,365.6 L134.4,358.8 L132.9,352.1 L132.5,345.8 L133.2,340.8 L135.0,337.5 L137.7,336.1 L141.1,336.9 L144.8,339.9 L157.7,353.3 L161.4,358.2 L164.7,364.4 L167.3,371.3 L168.8,378.4 L169.2,384.7 L168.4,389.8 L166.4,393.1 L163.6,394.2 L160.1,393.2 L156.4,390.1Z M89.6,318.5 L86.3,314.1 L83.4,308.4 L81.1,302.0 L79.7,295.5 L79.2,289.5 L79.8,284.6 L81.4,281.2 L83.8,279.8 L86.9,280.4 L90.2,283.0 L102.0,295.3 L105.4,299.7 L108.5,305.5 L110.9,312.1 L112.3,318.8 L112.8,325.0 L112.1,329.9 L110.4,333.2 L107.8,334.5 L104.7,333.8 L101.3,331.0Z M40.3,265.5 L37.2,261.4 L34.5,256.0 L32.4,250.0 L31.0,243.7 L30.5,237.9 L31.0,233.1 L32.4,229.8 L34.5,228.2 L37.3,228.6 L40.3,231.0 L51.1,242.2 L54.3,246.3 L57.1,251.8 L59.3,258.1 L60.8,264.5 L61.2,270.4 L60.7,275.3 L59.2,278.6 L56.9,280.0 L54.1,279.4 L51.0,276.9Z M-5.1,216.8 L-7.9,212.9 L-10.4,207.9 L-12.5,202.1 L-13.8,196.1 L-14.3,190.5 L-13.9,185.8 L-12.7,182.5 L-10.8,180.9 L-8.3,181.1 L-5.5,183.2 L4.5,193.6 L7.4,197.4 L10.0,202.6 L12.1,208.5 L13.5,214.7 L13.9,220.4 L13.5,225.2 L12.2,228.4 L10.2,230.0 L7.6,229.6 L4.7,227.3Z" fill="none" stroke="#111" stroke-width="1.90" stroke-linejoin="round"/>
<path d="M308.2,592.8 L308.2,594.5 L-512.3,-311.0 L-512.5,-311.9Z" fill="#a4a4a4" stroke="#a4a4a4" stroke-width="0.6"/>
<path d="M308.2,594.5 L308.7,596.0 L-511.9,-310.1 L-512.3,-311.0Z" fill="#848484" stroke="#848484" stroke-width="0.6"/>
<path d="M308.7,596.0 L309.4,597.2 L-511.3,-309.4 L-511.9,-310.1Z" fill="#616161" stroke="#616161" stroke-width="0.6"/>
<path d="M308.2,592.8 L-512.5,-311.9" stroke="#222" stroke-width="0.90" fill="none" stroke-linecap="butt"/>
<path d="M309.4,597.2 L-511.3,-309.4" stroke="#111" stroke-width="2.00" fill="none" stroke-linecap="butt"/>
<path d="M358.1,459.9 L357.0,458.9 L-502.7,-376.1 L-502.0,-375.5Z" fill="#444444" stroke="#444444" stroke-width="0.6"/>
<path d="M357.0,458.9 L355.5,458.2 L-503.5,-376.6 L-502.7,-376.1Z" fill="#686868" stroke="#686868" stroke-width="0.6"/>
<path d="M355.5,458.2 L353.8,457.9 L-504.4,-377.0 L-503.5,-376.6Z" fill="#8a8a8a" stroke="#8a8a8a" stroke-width="0.6"/>
<path d="M353.8,457.9 L352.0,458.0 L-505.4,-377.1 L-504.4,-377.0Z" fill="#aaaaaa" stroke="#aaaaaa" stroke-width="0.6"/>
<path d="M352.0,458.0 L350.0,458.5 L-506.3,-377.1 L-505.4,-377.1Z" fill="#c5c5c5" stroke="#c5c5c5" stroke-width="0.6"/>
<path d="M350.0,458.5 L329.3,465.6 L-516.1,-375.7 L-506.3,-377.1Z" fill="#d1d1d1" stroke="#d1d1d1" stroke-width="0.6"/>
<path d="M329.3,465.6 L327.3,466.5 L-517.0,-375.5 L-516.1,-375.7Z" fill="#dbdbdb" stroke="#dbdbdb" stroke-width="0.6"/>
<path d="M327.3,466.5 L325.3,467.7 L-517.9,-375.1 L-517.0,-375.5Z" fill="#ececec" stroke="#ececec" stroke-width="0.6"/>
<path d="M325.3,467.7 L323.4,469.3 L-518.7,-374.5 L-517.9,-375.1Z" fill="#f6f6f6" stroke="#f6f6f6" stroke-width="0.6"/>
<path d="M323.4,469.3 L321.7,471.0 L-519.3,-373.8 L-518.7,-374.5Z" fill="#f8f8f8" stroke="#f8f8f8" stroke-width="0.6"/>
<path d="M321.7,471.0 L320.3,473.0 L-519.8,-373.0 L-519.3,-373.8Z" fill="#f4f4f4" stroke="#f4f4f4" stroke-width="0.6"/>
<path d="M320.3,473.0 L319.2,475.0 L-520.2,-372.0 L-519.8,-373.0Z" fill="#e9e9e9" stroke="#e9e9e9" stroke-width="0.6"/>
<path d="M319.2,475.0 L318.4,477.1 L-520.3,-371.1 L-520.2,-372.0Z" fill="#d7d7d7" stroke="#d7d7d7" stroke-width="0.6"/>
<path d="M318.4,477.1 L318.0,479.0 L-520.3,-370.1 L-520.3,-371.1Z" fill="#c0c0c0" stroke="#c0c0c0" stroke-width="0.6"/>
<path d="M358.1,459.9 L-502.0,-375.5" stroke="#111" stroke-width="2.00" fill="none" stroke-linecap="butt"/>
<path d="M350.0,458.5 L-506.3,-377.1" stroke="#222" stroke-width="0.90" fill="none" stroke-linecap="butt"/>
<path d="M329.3,465.6 L-516.1,-375.7" stroke="#222" stroke-width="0.90" fill="none" stroke-linecap="butt"/>
<path d="M318.0,479.0 L-520.3,-370.1" stroke="#222" stroke-width="0.90" fill="none" stroke-linecap="butt"/>
<path d="M358.3,474.5 L359.3,464.8 L359.3,462.9 L358.9,461.3 L358.1,459.9 L357.0,458.9 L355.5,458.2 L353.8,457.9 L352.0,458.0 L350.0,458.5 L329.3,465.6 L327.3,466.5 L325.3,467.7 L323.4,469.3 L321.7,471.0 L320.3,473.0 L319.2,475.0 L318.4,477.1 L318.0,479.0 L308.2,592.8 L308.2,594.5 L308.7,596.0 L309.4,597.2 L310.6,598.1 L312.0,598.7 L313.6,598.9 L315.5,598.7 L317.4,598.2 L453.2,547.7 L455.1,546.8 L456.9,545.7 L458.6,544.2 L460.2,542.6 L461.5,540.8 L462.6,538.9 L463.4,537.0 L463.8,535.2 L478.7,423.4 L478.8,421.6 L478.5,419.9 L477.8,418.6 L476.8,417.5 L475.5,416.8 L473.9,416.5 L472.1,416.6 L470.3,417.1 L450.6,423.8 L448.7,424.7 L446.8,425.9 L445.0,427.3 L443.3,429.1 L441.9,431.0 L440.8,433.0 L440.0,435.0 L439.6,436.9 L438.4,446.6 L446.3,443.9 L447.5,434.2 L447.5,433.8 L447.7,433.4 L447.9,433.0 L448.2,432.6 L448.5,432.3 L448.9,432.0 L449.3,431.8 L449.7,431.6 L469.8,424.6 L470.1,424.5 L470.3,424.5 L470.6,424.6 L470.7,424.7 L470.9,424.8 L471.0,425.0 L471.0,425.2 L471.0,425.5 L456.2,538.5 L456.1,538.8 L456.0,539.1 L455.9,539.3 L455.7,539.6 L455.5,539.8 L455.2,540.0 L455.0,540.2 L454.7,540.3 L317.5,591.1 L317.2,591.2 L316.9,591.2 L316.7,591.2 L316.5,591.1 L316.3,591.0 L316.2,590.8 L316.2,590.6 L316.2,590.4 L326.4,475.6 L326.5,475.3 L326.6,475.0 L326.7,474.7 L326.9,474.5 L327.1,474.2 L327.4,474.0 L327.7,473.8 L328.0,473.7 L349.2,466.4 L349.6,466.3 L350.0,466.2 L350.3,466.3 L350.6,466.4 L350.8,466.6 L351.0,466.9 L351.1,467.2 L351.1,467.6 L350.1,477.4Z" fill="#7e7e7e" stroke="#111" stroke-width="2.0" stroke-linejoin="round"/>
</g>
<g id="annot" opacity="0.995" filter="url(#soft)">
<path d="M308.2,603.3 L296.9,741.7" stroke="#262626" stroke-width="1.10" fill="none" stroke-linecap="butt"/>
<path d="M357.1,485.3 L339.9,671.1" stroke="#262626" stroke-width="1.10" fill="none" stroke-linecap="butt"/>
<path d="M437.2,457.3 L415.0,640.0" stroke="#262626" stroke-width="1.10" fill="none" stroke-linecap="butt"/>
<path d="M462.2,542.6 L443.3,681.0" stroke="#262626" stroke-width="1.10" fill="none" stroke-linecap="butt"/>
<path d="M341.3,662.2 L414.7,633.3" stroke="#262626" stroke-width="1.10" fill="none" stroke-linecap="butt"/>
<path d="M297.5,732.4 L443.8,674.8" stroke="#262626" stroke-width="1.10" fill="none" stroke-linecap="butt"/>
<path d="M356.1,646.0 L341.3,662.2 L354.0,667.9" stroke="#1a1a1a" stroke-width="1.10" fill="none" stroke-linejoin="miter"/>
<path d="M402.7,626.9 L414.7,633.3 L399.2,650.2" stroke="#1a1a1a" stroke-width="1.10" fill="none" stroke-linejoin="miter"/>
<path d="M430.9,667.9 L442.9,674.6 L428.1,690.5" stroke="#1a1a1a" stroke-width="1.10" fill="none" stroke-linejoin="miter"/>
<path d="M311.5,715.5 L297.5,732.4 L312.0,738.5" stroke="#1a1a1a" stroke-width="1.10" fill="none" stroke-linejoin="miter"/>
<path d="M481.2,414.1 L575.3,381.6" stroke="#262626" stroke-width="1.10" fill="none" stroke-linecap="butt"/>
<path d="M461.2,543.1 L552.9,509.4" stroke="#262626" stroke-width="1.10" fill="none" stroke-linecap="butt"/>
<path d="M565.9,385.9 L544.7,511.8" stroke="#262626" stroke-width="1.10" fill="none" stroke-linecap="butt"/>
<path d="M550.1,404.7 L565.9,385.9 L576.0,395.3" stroke="#1a1a1a" stroke-width="1.10" fill="none" stroke-linejoin="miter"/>
<path d="M534.1,503.5 L544.7,511.8 L558.8,494.6" stroke="#1a1a1a" stroke-width="1.10" fill="none" stroke-linejoin="miter"/>
<path d="M0.0,373.2 L216.5,634.9" stroke="#262626" stroke-width="1.10" fill="none" stroke-linecap="butt"/>
<path d="M306.9,602.9 L207.1,640.5" stroke="#262626" stroke-width="1.10" fill="none" stroke-linecap="butt"/>
<path d="M193.9,629.2 L216.5,634.9 L222.1,617.9" stroke="#1a1a1a" stroke-width="1.10" fill="none" stroke-linejoin="miter"/>
<path d="M221.4,210.8 L231.3,196.7" stroke="#111" stroke-width="3.60" fill="none" stroke-linecap="butt"/>
<path d="M231.3,196.7 L256.0,163.7 L270.8,163.7" stroke="#262626" stroke-width="1.10" fill="none" stroke-linejoin="miter"/>
<path d="M282.3,321.2 L293.9,309.6" stroke="#111" stroke-width="3.60" fill="none" stroke-linecap="butt"/>
<path d="M293.9,309.6 L363.0,242.1 L390.4,242.1" stroke="#262626" stroke-width="1.10" fill="none" stroke-linejoin="miter"/>
<path d="M379.9,542.9 L395.2,555.2" stroke="#111" stroke-width="3.60" fill="none" stroke-linecap="butt"/>
<path d="M395.2,555.2 L494.6,627.1 L522.7,627.1" stroke="#262626" stroke-width="1.10" fill="none" stroke-linejoin="miter"/>
<path d="M269.2,493.7 L253.0,507.6" stroke="#111" stroke-width="3.60" fill="none" stroke-linecap="butt"/>
<path d="M253.0,507.6 L113.0,649.2 L82.0,649.2" stroke="#262626" stroke-width="1.10" fill="none" stroke-linejoin="miter"/>
<text transform="translate(8.20,659.40) scale(0.8466,1)" font-size="27.19" x="-0.88 15.38 34.09 39.09 63.28" y="0" stroke="#fff" stroke-width="0.15" paint-order="fill" style="paint-order:fill stroke">det A</text>
<text transform="translate(398.60,252.00) scale(0.8423,1)" font-size="27.33" x="-0.88 15.46 34.27 39.27 63.60" y="0" stroke="#fff" stroke-width="0.15" paint-order="fill" style="paint-order:fill stroke">det A</text>
<text transform="translate(531.30,637.80) scale(0.8381,1)" font-size="27.46" x="-0.89 15.54 34.44 39.44 63.93" y="0" stroke="#fff" stroke-width="0.15" paint-order="fill" style="paint-order:fill stroke">det A</text>
<text transform="translate(693.50,78.40) scale(0.8320,1)" font-size="32.02" x="-1.15 20.75 42.18 47.18 77.72" y="0" stroke="#fff" stroke-width="0.15" paint-order="fill" style="paint-order:fill stroke">det A</text>
<text transform="translate(278.00,172.90) scale(0.8027,1)" font-size="27.76" x="-0.62" y="0" stroke="#fff" stroke-width="0.15" paint-order="fill" style="paint-order:fill stroke">T</text>
<text transform="translate(761.70,129.90) scale(0.9005,1)" font-size="26.92" x="-1.26" y="0" stroke="#fff" stroke-width="0.15" paint-order="fill" style="paint-order:fill stroke">9</text>
<text transform="matrix(1.023,-0.403,-0.118,0.993,367.8,646.3)" font-size="22.00" x="0 12.6" y="0" stroke="#fff" stroke-width="0.15" style="paint-order:fill stroke">20</text>
<text transform="matrix(1.020,-0.414,-0.118,0.993,362.5,702.0)" font-size="22.00" x="0 13.8" y="0" stroke="#fff" stroke-width="0.15" style="paint-order:fill stroke">40</text>
<text transform="matrix(-0.166,0.986,-0.945,0.326,561.5,436.0)" font-size="23.50" x="0 13.5" y="0" stroke="#fff" stroke-width="0.15" style="paint-order:fill stroke">35</text>
<text transform="matrix(0.347,0.347,-0.953,0.304,37.6,409.4)" font-size="29.50" y="0" stroke="#fff" stroke-width="0.15" style="paint-order:fill stroke">L</text>
<path d="M690.2,195.2 L840.6,195.2" stroke="#777" stroke-width="1.00" fill="none" stroke-linecap="butt"/>
<path d="M690.2,287.3 L756.1,287.3" stroke="#222" stroke-width="1.00" fill="none" stroke-linecap="butt"/>
<path d="M690.2,337.6 L756.1,337.6" stroke="#777" stroke-width="1.00" fill="none" stroke-linecap="butt"/>
<path d="M690.2,429.2 L840.6,429.2" stroke="#777" stroke-width="1.00" fill="none" stroke-linecap="butt"/>
<path d="M742.7,125.4 L742.7,209.9" stroke="#777" stroke-width="1.00" fill="none" stroke-linecap="butt"/>
<path d="M787.9,125.4 L787.9,206.5" stroke="#222" stroke-width="1.00" fill="none" stroke-linecap="butt"/>
<path d="M711.0,135.7 L742.7,135.7" stroke="#777" stroke-width="1.00" fill="none" stroke-linecap="butt"/>
<path d="M787.9,135.7 L819.1,135.7" stroke="#777" stroke-width="1.00" fill="none" stroke-linecap="butt"/>
<path d="M727.0,121.6 L742.7,135.7 L727.0,149.5" stroke="#1a1a1a" stroke-width="1.10" fill="none" stroke-linejoin="miter"/>
<path d="M804.2,121.6 L787.9,135.7 L804.2,149.5" stroke="#1a1a1a" stroke-width="1.10" fill="none" stroke-linejoin="miter"/>
<path d="M765.5,167.9 L765.5,216.9" stroke="#777" stroke-width="1.00" fill="none" stroke-linecap="butt"/>
<path d="M765.5,273.9 L765.5,337.0" stroke="#777" stroke-width="1.00" fill="none" stroke-linecap="butt"/>
<path d="M765.5,399.9 L765.5,449.3" stroke="#777" stroke-width="1.00" fill="none" stroke-linecap="butt"/>
<path d="M765.0,246.6 L766.0,246.6" stroke="#777" stroke-width="1.00" fill="none" stroke-linecap="butt"/>
<path d="M765.0,372.0 L766.0,372.0" stroke="#777" stroke-width="1.00" fill="none" stroke-linecap="butt"/>
<path d="M700.7,196.8 L700.7,285.5" stroke="#444" stroke-width="1.00" fill="none" stroke-linecap="butt"/>
<path d="M686.8,210.2 L700.7,196.3 L714.3,210.2" stroke="#1a1a1a" stroke-width="1.10" fill="none" stroke-linejoin="miter"/>
<path d="M686.8,271.6 L700.7,286.0 L714.3,271.6" stroke="#1a1a1a" stroke-width="1.10" fill="none" stroke-linejoin="miter"/>
<path d="M700.7,339.1 L700.7,428.5" stroke="#444" stroke-width="1.00" fill="none" stroke-linecap="butt"/>
<path d="M686.8,353.2 L700.7,338.6 L714.3,353.2" stroke="#1a1a1a" stroke-width="1.10" fill="none" stroke-linejoin="miter"/>
<path d="M686.8,414.4 L700.7,428.7 L714.3,414.4" stroke="#1a1a1a" stroke-width="1.10" fill="none" stroke-linejoin="miter"/>
<path d="M830.3,196.8 L830.3,428.5" stroke="#222" stroke-width="1.00" fill="none" stroke-linecap="butt"/>
<path d="M816.5,210.2 L830.3,196.3 L844.4,210.2" stroke="#1a1a1a" stroke-width="1.10" fill="none" stroke-linejoin="miter"/>
<path d="M816.5,414.4 L830.3,428.7 L844.4,414.4" stroke="#1a1a1a" stroke-width="1.10" fill="none" stroke-linejoin="miter"/>
<rect x="743.1" y="196.0" width="45.0" height="89.3" rx="22.5" ry="22.5" fill="none" stroke="#0a0a0a" stroke-width="3.0"/>
<rect x="743.1" y="338.4" width="45.0" height="89.7" rx="22.5" ry="22.5" fill="none" stroke="#0a0a0a" stroke-width="3.0"/>
<text transform="matrix(0,-0.8405,1,0,695.80,251.50)" font-size="29.07" x="-2.21" y="0" stroke="#fff" stroke-width="0.15" style="paint-order:fill stroke">14</text>
<text transform="matrix(0,-0.6237,1,0,695.80,319.70)" font-size="29.07" x="-2.21" y="0" stroke="#fff" stroke-width="0.15" style="paint-order:fill stroke">11</text>
<text transform="matrix(0,-0.7790,1,0,695.80,393.90)" font-size="29.07" x="-2.21" y="0" stroke="#fff" stroke-width="0.15" style="paint-order:fill stroke">14</text>
<text transform="matrix(0,-0.8738,1,0,825.40,327.50)" font-size="28.64" x="-1.09" y="0" stroke="#fff" stroke-width="0.15" style="paint-order:fill stroke">39</text>
</g>
</svg>
</body></html>
